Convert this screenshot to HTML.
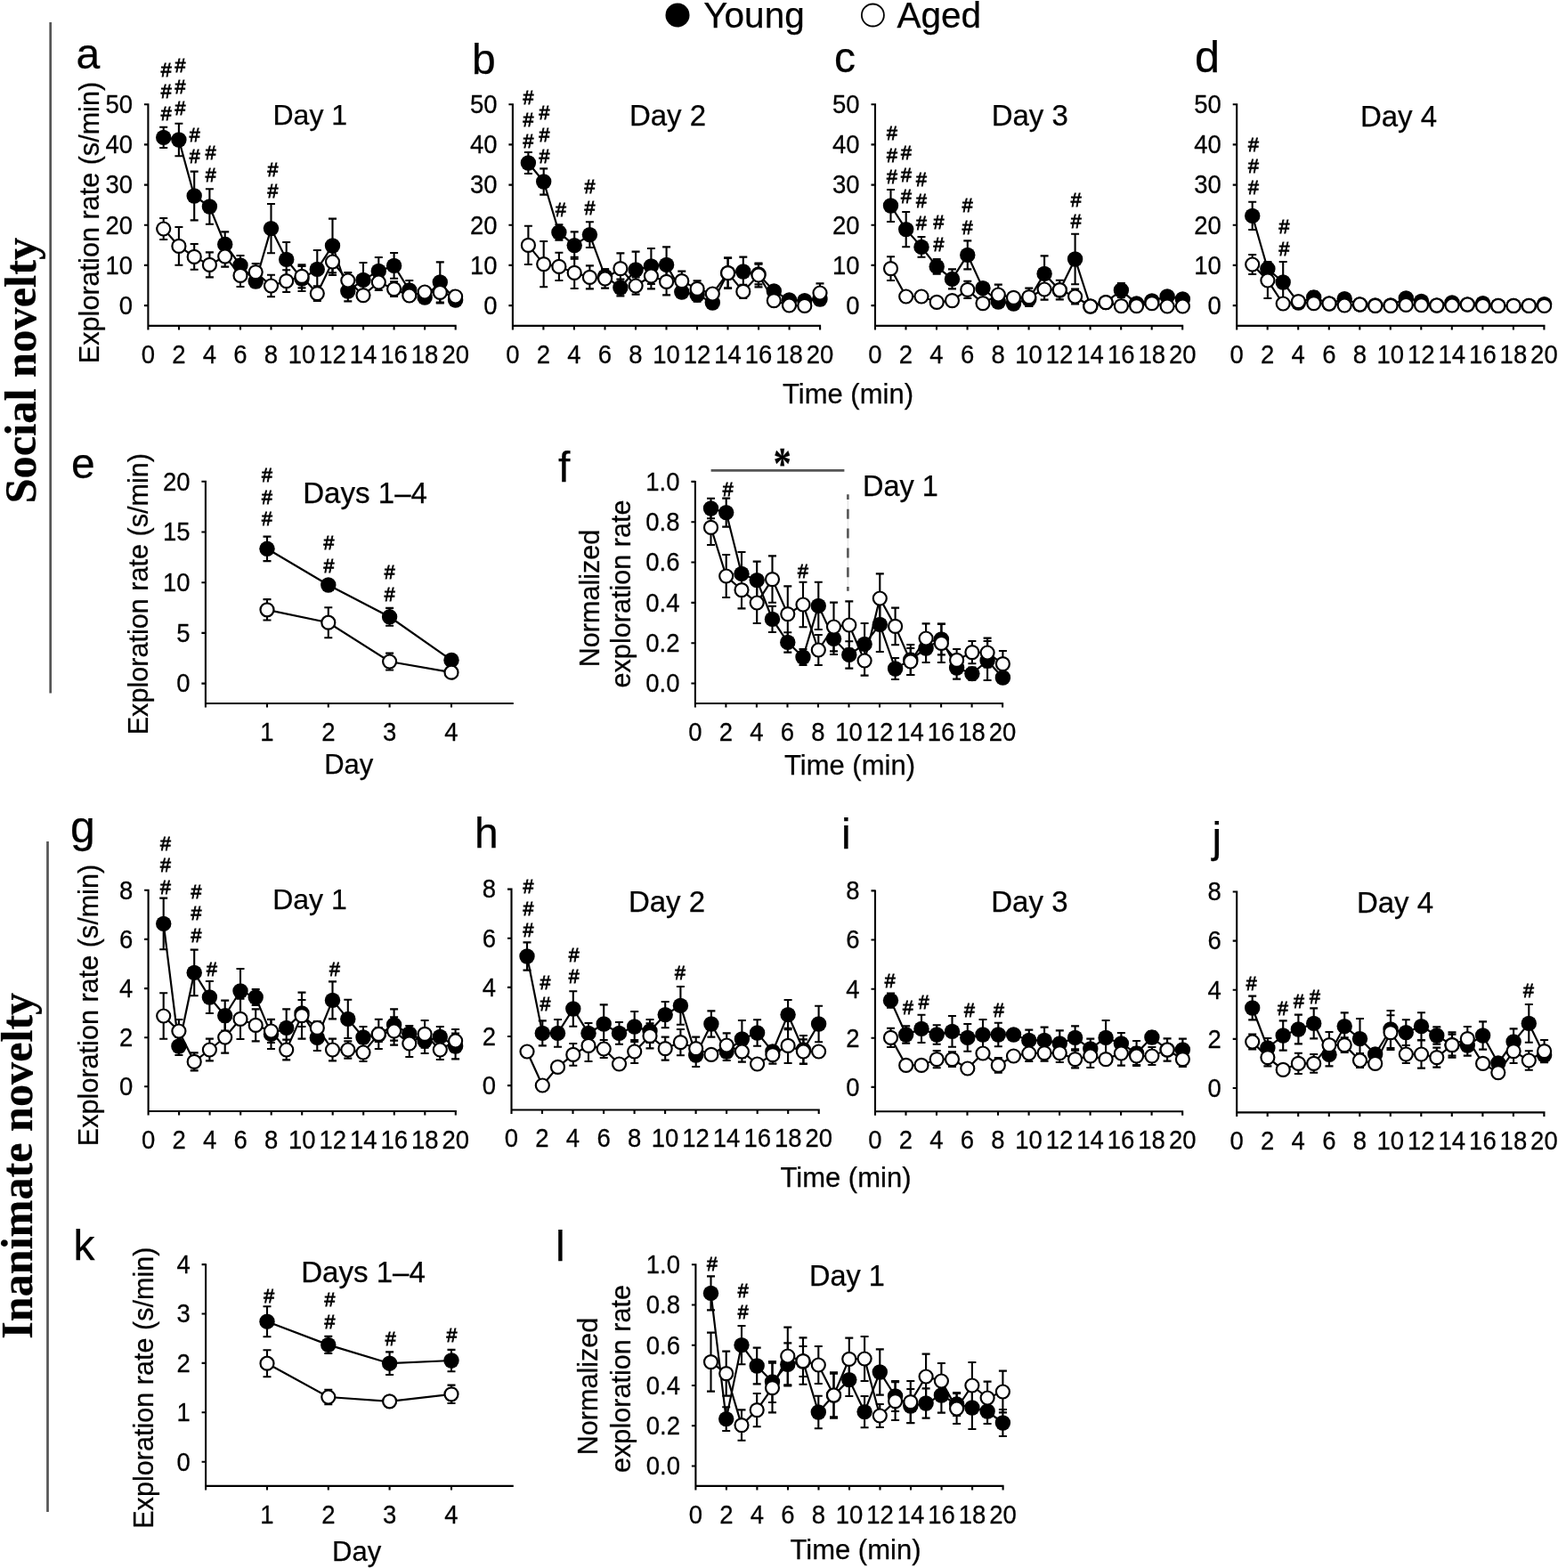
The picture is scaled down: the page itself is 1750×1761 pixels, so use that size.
<!DOCTYPE html>
<html lang="en"><head><meta charset="utf-8"><title>Exploration of social and inanimate novelty in young and aged animals</title>
<style>html,body{margin:0;padding:0;background:#fff}body{width:1750px;height:1761px;overflow:hidden}svg{display:block}text{font-family:'Liberation Sans', sans-serif;fill:#000;stroke:#000;stroke-width:0.25px}.h text{stroke-width:0.9px}.s{font-family:'Liberation Serif', serif;font-weight:bold}</style>
</head><body>
<svg width="1750" height="1761" viewBox="0 0 1750 1761">
<rect width="1750" height="1761" fill="#fff"/>
<path d="M56.7 25V778.5M53.5 945V1698" stroke="#555" stroke-width="2.7" fill="none"/>
<g class="s" text-anchor="middle">
<text class="s" font-size="50.5" transform="translate(39.8 416.2) rotate(-90)">Social novelty</text>
<text class="s" font-size="50.2" transform="translate(35.9 1309.3) rotate(-90)">Inanimate novelty</text>
</g>
<circle cx="761" cy="17" r="13.5" fill="#000"/>
<circle cx="980.4" cy="17" r="12.5" fill="#fff" stroke="#000" stroke-width="1.8"/>
<g font-size="40.5">
<text x="790.3" y="30.6">Young</text>
<text x="1007.5" y="30.6">Aged</text>
</g>
<g font-size="48">
<text x="85.5" y="77">a</text>
<text x="530" y="83">b</text>
<text x="937" y="81">c</text>
<text x="1342" y="81.3" font-size="50.5">d</text>
<text x="80" y="537">e</text>
<text x="627" y="541">f</text>
<text x="79" y="946.2" font-size="50">g</text>
<text x="533" y="952">h</text>
<text x="945" y="953">i</text>
<text x="1361.5" y="957">j</text>
<text x="82.5" y="1415.2">k</text>
<text x="624" y="1415.7">l</text>
</g>
<g text-anchor="middle">
<text x="348.3" y="140" font-size="32">Day 1</text>
<text x="750" y="141" font-size="33">Day 2</text>
<text x="1156.8" y="141" font-size="33">Day 3</text>
<text x="1571" y="142" font-size="33">Day 4</text>
<text x="410.1" y="564.8" font-size="33.1">Days 1–4</text>
<text x="1011.5" y="556.8" font-size="32.5">Day 1</text>
<text x="348" y="1021" font-size="32">Day 1</text>
<text x="749" y="1023.6" font-size="33">Day 2</text>
<text x="1156.4" y="1024" font-size="33">Day 3</text>
<text x="1567" y="1025" font-size="33">Day 4</text>
<text x="408" y="1440" font-size="33.1">Days 1–4</text>
<text x="951.4" y="1444" font-size="32.5">Day 1</text>
<text x="952.5" y="452.7" font-size="31">Time (min)</text>
<text x="391.7" y="869" font-size="31">Day</text>
<text x="954.5" y="869.5" font-size="31">Time (min)</text>
<text x="950" y="1333" font-size="31">Time (min)</text>
<text x="400.6" y="1753" font-size="31">Day</text>
<text x="961" y="1750.8" font-size="31">Time (min)</text>
<text font-size="30.6" transform="translate(111 250) rotate(-90)">Exploration rate (s/min)</text>
<text font-size="30.6" transform="translate(166 667.2) rotate(-90)">Exploration rate (s/min)</text>
<text font-size="30.6" transform="translate(672.5 672) rotate(-90)">Normalized</text>
<text font-size="30.6" transform="translate(708 667) rotate(-90)">exploration rate</text>
<text font-size="30.6" transform="translate(110 1129) rotate(-90)">Exploration rate (s/min)</text>
<text font-size="30.6" transform="translate(172.2 1558.7) rotate(-90)">Exploration rate (s/min)</text>
<text font-size="30.6" transform="translate(671 1557) rotate(-90)">Normalized</text>
<text font-size="30.6" transform="translate(708.3 1548.5) rotate(-90)">exploration rate</text>
</g>
<path d="M798.6 528.4H948.4" stroke="#555" stroke-width="2.7" fill="none"/>
<text transform="translate(878.7 536.6) scale(1 1.28)" font-size="40" font-weight="bold" text-anchor="middle" style="font-family:'Liberation Serif',serif">*</text>
<path d="M952.4 555.3V663.7" stroke="#c8c8c8" stroke-width="0.6" fill="none"/>
<path d="M952.4 555.3V663.7" stroke="#555" stroke-width="2.6" stroke-dasharray="11 10.8" stroke-dashoffset="5.3" fill="none"/>
<g id="panel-a">
<path d="M166.4 116.2V365.9H512.7M161.9 343.1H166.4M161.9 297.9H166.4M161.9 252.7H166.4M161.9 207.6H166.4M161.9 162.4H166.4M161.9 117.2H166.4M166.4 365.9V370.4M201 365.9V370.4M235.5 365.9V370.4M270 365.9V370.4M304.5 365.9V370.4M339.1 365.9V370.4M373.6 365.9V370.4M408.1 365.9V370.4M442.6 365.9V370.4M477.1 365.9V370.4M511.7 365.9V370.4" fill="none" stroke="#000" stroke-width="2.1"/>
<g font-size="27.5" text-anchor="end">
<text transform="translate(149 352.9) scale(1 1.04)">0</text>
<text transform="translate(149 307.7) scale(1 1.04)">10</text>
<text transform="translate(149 262.5) scale(1 1.04)">20</text>
<text transform="translate(149 217.4) scale(1 1.04)">30</text>
<text transform="translate(149 172.2) scale(1 1.04)">40</text>
<text transform="translate(149 127) scale(1 1.04)">50</text>
</g>
<g font-size="27.5" text-anchor="middle">
<text transform="translate(166.4 407.6) scale(1 1.04)">0</text>
<text transform="translate(201 407.6) scale(1 1.04)">2</text>
<text transform="translate(235.5 407.6) scale(1 1.04)">4</text>
<text transform="translate(270 407.6) scale(1 1.04)">6</text>
<text transform="translate(304.5 407.6) scale(1 1.04)">8</text>
<text transform="translate(339.1 407.6) scale(1 1.04)">10</text>
<text transform="translate(373.6 407.6) scale(1 1.04)">12</text>
<text transform="translate(408.1 407.6) scale(1 1.04)">14</text>
<text transform="translate(442.6 407.6) scale(1 1.04)">16</text>
<text transform="translate(477.1 407.6) scale(1 1.04)">18</text>
<text transform="translate(511.7 407.6) scale(1 1.04)">20</text>
</g>
<path d="M183.7 154.4L200.9 157L218.2 220L235.4 232L252.7 274.4L270 298L287.2 316L304.5 256.6L321.7 291.4L339 313L356.3 302.4L373.5 276L390.8 327L408 314.4L425.3 304.4L442.6 298.4L459.8 326L477.1 334L494.3 317L511.6 337" fill="none" stroke="#000" stroke-width="2.2"/>
<path d="M183.7 142.8V166M179.2 142.8H188.2M179.2 166H188.2M200.9 138.8V175.2M196.4 138.8H205.4M196.4 175.2H205.4M218.2 192.6V247.4M213.7 192.6H222.7M213.7 247.4H222.7M235.4 212.2V251.8M230.9 212.2H239.9M230.9 251.8H239.9M252.7 260.4V288.4M248.2 260.4H257.2M248.2 288.4H257.2M270 287V309M265.5 287H274.5M265.5 309H274.5M287.2 309V323M282.7 309H291.7M282.7 323H291.7M304.5 229V284.2M300 229H309M300 284.2H309M321.7 272V310.8M317.2 272H326.2M317.2 310.8H326.2M339 299V327M334.5 299H343.5M334.5 327H343.5M356.3 281V323.8M351.8 281H360.8M351.8 323.8H360.8M373.5 245.6V306.4M369 245.6H378M369 306.4H378M390.8 315.6V338.4M386.3 315.6H395.3M386.3 338.4H395.3M408 295V333.8M403.5 295H412.5M403.5 333.8H412.5M425.3 289V319.8M420.8 289H429.8M420.8 319.8H429.8M442.6 284V312.8M438.1 284H447.1M438.1 312.8H447.1M459.8 315V337M455.3 315H464.3M455.3 337H464.3M477.1 330V338M472.6 330H481.6M472.6 338H481.6M494.3 294.4V339.6M489.8 294.4H498.8M489.8 339.6H498.8M511.6 334V340M507.1 334H516.1M507.1 340H516.1" fill="none" stroke="#000" stroke-width="2.1"/>
<g fill="#000">
<circle cx="183.7" cy="154.4" r="8.7"/>
<circle cx="200.9" cy="157" r="8.7"/>
<circle cx="218.2" cy="220" r="8.7"/>
<circle cx="235.4" cy="232" r="8.7"/>
<circle cx="252.7" cy="274.4" r="8.7"/>
<circle cx="270" cy="298" r="8.7"/>
<circle cx="287.2" cy="316" r="8.7"/>
<circle cx="304.5" cy="256.6" r="8.7"/>
<circle cx="321.7" cy="291.4" r="8.7"/>
<circle cx="339" cy="313" r="8.7"/>
<circle cx="356.3" cy="302.4" r="8.7"/>
<circle cx="373.5" cy="276" r="8.7"/>
<circle cx="390.8" cy="327" r="8.7"/>
<circle cx="408" cy="314.4" r="8.7"/>
<circle cx="425.3" cy="304.4" r="8.7"/>
<circle cx="442.6" cy="298.4" r="8.7"/>
<circle cx="459.8" cy="326" r="8.7"/>
<circle cx="477.1" cy="334" r="8.7"/>
<circle cx="494.3" cy="317" r="8.7"/>
<circle cx="511.6" cy="337" r="8.7"/>
</g>
<path d="M183.7 257L200.9 276.4L218.2 288.4L235.4 297.4L252.7 288L270 309.4L287.2 305.6L304.5 321L321.7 315.6L339 310.4L356.3 329.6L373.5 294L390.8 315L408 331.6L425.3 317L442.6 324.6L459.8 332L477.1 328L494.3 328.4L511.6 333" fill="none" stroke="#000" stroke-width="2.2"/>
<path d="M183.7 245V269M179.2 245H188.2M179.2 269H188.2M200.9 255V297.8M196.4 255H205.4M196.4 297.8H205.4M218.2 274V302.8M213.7 274H222.7M213.7 302.8H222.7M235.4 283.4V311.4M230.9 283.4H239.9M230.9 311.4H239.9M252.7 276.4V299.6M248.2 276.4H257.2M248.2 299.6H257.2M270 296.8V322M265.5 296.8H274.5M265.5 322H274.5M287.2 296V315.2M282.7 296H291.7M282.7 315.2H291.7M304.5 308.8V333.2M300 308.8H309M300 333.2H309M321.7 303.2V328M317.2 303.2H326.2M317.2 328H326.2M339 297.4V323.4M334.5 297.4H343.5M334.5 323.4H343.5M356.3 321.2V338M351.8 321.2H360.8M351.8 338H360.8M373.5 279V309M369 279H378M369 309H378M390.8 306V324M386.3 306H395.3M386.3 324H395.3M408 326.6V336.6M403.5 326.6H412.5M403.5 336.6H412.5M425.3 308V326M420.8 308H429.8M420.8 326H429.8M442.6 316.2V333M438.1 316.2H447.1M438.1 333H447.1M459.8 327V337M455.3 327H464.3M455.3 337H464.3M477.1 323V333M472.6 323H481.6M472.6 333H481.6M494.3 316.4V340.4M489.8 316.4H498.8M489.8 340.4H498.8M511.6 328V338M507.1 328H516.1M507.1 338H516.1" fill="none" stroke="#000" stroke-width="2.1"/>
<g fill="#fff" stroke="#000" stroke-width="2.2">
<circle cx="183.7" cy="257" r="7.5"/>
<circle cx="200.9" cy="276.4" r="7.5"/>
<circle cx="218.2" cy="288.4" r="7.5"/>
<circle cx="235.4" cy="297.4" r="7.5"/>
<circle cx="252.7" cy="288" r="7.5"/>
<circle cx="270" cy="309.4" r="7.5"/>
<circle cx="287.2" cy="305.6" r="7.5"/>
<circle cx="304.5" cy="321" r="7.5"/>
<circle cx="321.7" cy="315.6" r="7.5"/>
<circle cx="339" cy="310.4" r="7.5"/>
<circle cx="356.3" cy="329.6" r="7.5"/>
<circle cx="373.5" cy="294" r="7.5"/>
<circle cx="390.8" cy="315" r="7.5"/>
<circle cx="408" cy="331.6" r="7.5"/>
<circle cx="425.3" cy="317" r="7.5"/>
<circle cx="442.6" cy="324.6" r="7.5"/>
<circle cx="459.8" cy="332" r="7.5"/>
<circle cx="477.1" cy="328" r="7.5"/>
<circle cx="494.3" cy="328.4" r="7.5"/>
<circle cx="511.6" cy="333" r="7.5"/>
</g>
</g>
<g id="panel-b">
<path d="M575.9 116.2V365.9H922.1M571.4 343.1H575.9M571.4 297.9H575.9M571.4 252.7H575.9M571.4 207.6H575.9M571.4 162.4H575.9M571.4 117.2H575.9M575.9 365.9V370.4M610.4 365.9V370.4M644.9 365.9V370.4M679.5 365.9V370.4M714 365.9V370.4M748.5 365.9V370.4M783 365.9V370.4M817.5 365.9V370.4M852.1 365.9V370.4M886.6 365.9V370.4M921.1 365.9V370.4" fill="none" stroke="#000" stroke-width="2.1"/>
<g font-size="27.5" text-anchor="end">
<text transform="translate(558.5 352.9) scale(1 1.04)">0</text>
<text transform="translate(558.5 307.7) scale(1 1.04)">10</text>
<text transform="translate(558.5 262.5) scale(1 1.04)">20</text>
<text transform="translate(558.5 217.4) scale(1 1.04)">30</text>
<text transform="translate(558.5 172.2) scale(1 1.04)">40</text>
<text transform="translate(558.5 127) scale(1 1.04)">50</text>
</g>
<g font-size="27.5" text-anchor="middle">
<text transform="translate(575.9 407.6) scale(1 1.04)">0</text>
<text transform="translate(610.4 407.6) scale(1 1.04)">2</text>
<text transform="translate(644.9 407.6) scale(1 1.04)">4</text>
<text transform="translate(679.5 407.6) scale(1 1.04)">6</text>
<text transform="translate(714 407.6) scale(1 1.04)">8</text>
<text transform="translate(748.5 407.6) scale(1 1.04)">10</text>
<text transform="translate(783 407.6) scale(1 1.04)">12</text>
<text transform="translate(817.5 407.6) scale(1 1.04)">14</text>
<text transform="translate(852.1 407.6) scale(1 1.04)">16</text>
<text transform="translate(886.6 407.6) scale(1 1.04)">18</text>
<text transform="translate(921.1 407.6) scale(1 1.04)">20</text>
</g>
<path d="M593.4 183L610.7 204L627.9 261L645.2 275.6L662.4 263.6L679.6 310.4L696.9 323L714.1 303L731.4 299L748.6 297.4L765.8 328L783.1 331L800.3 340L817.6 306.6L834.8 305L852 308L869.3 327L886.5 337L903.8 337.6L921 336" fill="none" stroke="#000" stroke-width="2.2"/>
<path d="M593.4 171V195M588.9 171H597.9M588.9 195H597.9M610.7 189.4V218.6M606.2 189.4H615.2M606.2 218.6H615.2M627.9 252.2V269.8M623.4 252.2H632.4M623.4 269.8H632.4M645.2 260.4V290.8M640.7 260.4H649.7M640.7 290.8H649.7M662.4 249.2V278M657.9 249.2H666.9M657.9 278H666.9M679.6 302.4V318.4M675.1 302.4H684.1M675.1 318.4H684.1M696.9 313.6V332.4M692.4 313.6H701.4M692.4 332.4H701.4M714.1 282.6V323.4M709.6 282.6H718.6M709.6 323.4H718.6M731.4 279V319M726.9 279H735.9M726.9 319H735.9M748.6 277.4V317.4M744.1 277.4H753.1M744.1 317.4H753.1M765.8 322V334M761.3 322H770.3M761.3 334H770.3M783.1 323.4V338.6M778.6 323.4H787.6M778.6 338.6H787.6M800.3 337V343M795.8 337H804.8M795.8 343H804.8M817.6 289.6V323.6M813.1 289.6H822.1M813.1 323.6H822.1M834.8 288.6V321.4M830.3 288.6H839.3M830.3 321.4H839.3M852 296.6V319.4M847.5 296.6H856.5M847.5 319.4H856.5M869.3 323V331M864.8 323H873.8M864.8 331H873.8M886.5 334V340M882 334H891M882 340H891M903.8 334.6V340.6M899.3 334.6H908.3M899.3 340.6H908.3M921 329.4V342.6M916.5 329.4H925.5M916.5 342.6H925.5" fill="none" stroke="#000" stroke-width="2.1"/>
<g fill="#000">
<circle cx="593.4" cy="183" r="8.7"/>
<circle cx="610.7" cy="204" r="8.7"/>
<circle cx="627.9" cy="261" r="8.7"/>
<circle cx="645.2" cy="275.6" r="8.7"/>
<circle cx="662.4" cy="263.6" r="8.7"/>
<circle cx="679.6" cy="310.4" r="8.7"/>
<circle cx="696.9" cy="323" r="8.7"/>
<circle cx="714.1" cy="303" r="8.7"/>
<circle cx="731.4" cy="299" r="8.7"/>
<circle cx="748.6" cy="297.4" r="8.7"/>
<circle cx="765.8" cy="328" r="8.7"/>
<circle cx="783.1" cy="331" r="8.7"/>
<circle cx="800.3" cy="340" r="8.7"/>
<circle cx="817.6" cy="306.6" r="8.7"/>
<circle cx="834.8" cy="305" r="8.7"/>
<circle cx="852" cy="308" r="8.7"/>
<circle cx="869.3" cy="327" r="8.7"/>
<circle cx="886.5" cy="337" r="8.7"/>
<circle cx="903.8" cy="337.6" r="8.7"/>
<circle cx="921" cy="336" r="8.7"/>
</g>
<path d="M593.4 275.4L610.7 296.6L627.9 299.4L645.2 306.4L662.4 311.4L679.6 313L696.9 301.6L714.1 321L731.4 310L748.6 316.4L765.8 315.6L783.1 324.4L800.3 330L817.6 306.6L834.8 327.4L852 309L869.3 337.6L886.5 343L903.8 343.4L921 329" fill="none" stroke="#000" stroke-width="2.2"/>
<path d="M593.4 253.8V297M588.9 253.8H597.9M588.9 297H597.9M610.7 271V322.2M606.2 271H615.2M606.2 322.2H615.2M627.9 283.8V315M623.4 283.8H632.4M623.4 315H632.4M645.2 288.8V324M640.7 288.8H649.7M640.7 324H649.7M662.4 298.4V324.4M657.9 298.4H666.9M657.9 324.4H666.9M679.6 302.4V323.6M675.1 302.4H684.1M675.1 323.6H684.1M696.9 284.4V318.8M692.4 284.4H701.4M692.4 318.8H701.4M714.1 311.4V330.6M709.6 311.4H718.6M709.6 330.6H718.6M731.4 295.6V324.4M726.9 295.6H735.9M726.9 324.4H735.9M748.6 301.4V331.4M744.1 301.4H753.1M744.1 331.4H753.1M765.8 304.6V326.6M761.3 304.6H770.3M761.3 326.6H770.3M783.1 315.4V333.4M778.6 315.4H787.6M778.6 333.4H787.6M800.3 326V334M795.8 326H804.8M795.8 334H804.8M817.6 289.6V323.6M813.1 289.6H822.1M813.1 323.6H822.1M834.8 319.8V335M830.3 319.8H839.3M830.3 335H839.3M852 295.6V322.4M847.5 295.6H856.5M847.5 322.4H856.5M869.3 334.6V340.6M864.8 334.6H873.8M864.8 340.6H873.8M886.5 341V345M882 341H891M882 345H891M903.8 341.4V345.4M899.3 341.4H908.3M899.3 345.4H908.3M921 318.4V339.6M916.5 318.4H925.5M916.5 339.6H925.5" fill="none" stroke="#000" stroke-width="2.1"/>
<g fill="#fff" stroke="#000" stroke-width="2.2">
<circle cx="593.4" cy="275.4" r="7.5"/>
<circle cx="610.7" cy="296.6" r="7.5"/>
<circle cx="627.9" cy="299.4" r="7.5"/>
<circle cx="645.2" cy="306.4" r="7.5"/>
<circle cx="662.4" cy="311.4" r="7.5"/>
<circle cx="679.6" cy="313" r="7.5"/>
<circle cx="696.9" cy="301.6" r="7.5"/>
<circle cx="714.1" cy="321" r="7.5"/>
<circle cx="731.4" cy="310" r="7.5"/>
<circle cx="748.6" cy="316.4" r="7.5"/>
<circle cx="765.8" cy="315.6" r="7.5"/>
<circle cx="783.1" cy="324.4" r="7.5"/>
<circle cx="800.3" cy="330" r="7.5"/>
<circle cx="817.6" cy="306.6" r="7.5"/>
<circle cx="834.8" cy="327.4" r="7.5"/>
<circle cx="852" cy="309" r="7.5"/>
<circle cx="869.3" cy="337.6" r="7.5"/>
<circle cx="886.5" cy="343" r="7.5"/>
<circle cx="903.8" cy="343.4" r="7.5"/>
<circle cx="921" cy="329" r="7.5"/>
</g>
</g>
<g id="panel-c">
<path d="M983 116.2V365.9H1329.2M978.5 343.1H983M978.5 297.9H983M978.5 252.7H983M978.5 207.6H983M978.5 162.4H983M978.5 117.2H983M983 365.9V370.4M1017.5 365.9V370.4M1052 365.9V370.4M1086.6 365.9V370.4M1121.1 365.9V370.4M1155.6 365.9V370.4M1190.1 365.9V370.4M1224.6 365.9V370.4M1259.2 365.9V370.4M1293.7 365.9V370.4M1328.2 365.9V370.4" fill="none" stroke="#000" stroke-width="2.1"/>
<g font-size="27.5" text-anchor="end">
<text transform="translate(965.6 352.9) scale(1 1.04)">0</text>
<text transform="translate(965.6 307.7) scale(1 1.04)">10</text>
<text transform="translate(965.6 262.5) scale(1 1.04)">20</text>
<text transform="translate(965.6 217.4) scale(1 1.04)">30</text>
<text transform="translate(965.6 172.2) scale(1 1.04)">40</text>
<text transform="translate(965.6 127) scale(1 1.04)">50</text>
</g>
<g font-size="27.5" text-anchor="middle">
<text transform="translate(983 407.6) scale(1 1.04)">0</text>
<text transform="translate(1017.5 407.6) scale(1 1.04)">2</text>
<text transform="translate(1052 407.6) scale(1 1.04)">4</text>
<text transform="translate(1086.6 407.6) scale(1 1.04)">6</text>
<text transform="translate(1121.1 407.6) scale(1 1.04)">8</text>
<text transform="translate(1155.6 407.6) scale(1 1.04)">10</text>
<text transform="translate(1190.1 407.6) scale(1 1.04)">12</text>
<text transform="translate(1224.6 407.6) scale(1 1.04)">14</text>
<text transform="translate(1259.2 407.6) scale(1 1.04)">16</text>
<text transform="translate(1293.7 407.6) scale(1 1.04)">18</text>
<text transform="translate(1328.2 407.6) scale(1 1.04)">20</text>
</g>
<path d="M1000.5 231L1017.7 257.6L1035 277.4L1052.2 299.4L1069.5 313.4L1086.8 286.4L1104 323.6L1121.3 339L1138.5 341L1155.8 336L1173.1 307.4L1190.3 326L1207.6 291L1224.8 344L1242.1 339.6L1259.4 326L1276.6 341L1293.9 338L1311.1 333L1328.4 336" fill="none" stroke="#000" stroke-width="2.2"/>
<path d="M1000.5 213V249M996 213H1005M996 249H1005M1017.7 238V277.2M1013.2 238H1022.2M1013.2 277.2H1022.2M1035 266V288.8M1030.5 266H1039.5M1030.5 288.8H1039.5M1052.2 291V307.8M1047.7 291H1056.7M1047.7 307.8H1056.7M1069.5 302.4V324.4M1065 302.4H1074M1065 324.4H1074M1086.8 270.4V302.4M1082.3 270.4H1091.3M1082.3 302.4H1091.3M1104 319.6V327.6M1099.5 319.6H1108.5M1099.5 327.6H1108.5M1121.3 334V344M1116.8 334H1125.8M1116.8 344H1125.8M1138.5 337V345M1134 337H1143M1134 345H1143M1155.8 328V344M1151.3 328H1160.3M1151.3 344H1160.3M1173.1 287.4V327.4M1168.6 287.4H1177.6M1168.6 327.4H1177.6M1190.3 320V332M1185.8 320H1194.8M1185.8 332H1194.8M1207.6 262.8V319.2M1203.1 262.8H1212.1M1203.1 319.2H1212.1M1224.8 342V346M1220.3 342H1229.3M1220.3 346H1229.3M1242.1 337.6V341.6M1237.6 337.6H1246.6M1237.6 341.6H1246.6M1259.4 318V334M1254.9 318H1263.9M1254.9 334H1263.9M1276.6 339V343M1272.1 339H1281.1M1272.1 343H1281.1M1293.9 335V341M1289.4 335H1298.4M1289.4 341H1298.4M1311.1 330V336M1306.6 330H1315.6M1306.6 336H1315.6M1328.4 333V339M1323.9 333H1332.9M1323.9 339H1332.9" fill="none" stroke="#000" stroke-width="2.1"/>
<g fill="#000">
<circle cx="1000.5" cy="231" r="8.7"/>
<circle cx="1017.7" cy="257.6" r="8.7"/>
<circle cx="1035" cy="277.4" r="8.7"/>
<circle cx="1052.2" cy="299.4" r="8.7"/>
<circle cx="1069.5" cy="313.4" r="8.7"/>
<circle cx="1086.8" cy="286.4" r="8.7"/>
<circle cx="1104" cy="323.6" r="8.7"/>
<circle cx="1121.3" cy="339" r="8.7"/>
<circle cx="1138.5" cy="341" r="8.7"/>
<circle cx="1155.8" cy="336" r="8.7"/>
<circle cx="1173.1" cy="307.4" r="8.7"/>
<circle cx="1190.3" cy="326" r="8.7"/>
<circle cx="1207.6" cy="291" r="8.7"/>
<circle cx="1224.8" cy="344" r="8.7"/>
<circle cx="1242.1" cy="339.6" r="8.7"/>
<circle cx="1259.4" cy="326" r="8.7"/>
<circle cx="1276.6" cy="341" r="8.7"/>
<circle cx="1293.9" cy="338" r="8.7"/>
<circle cx="1311.1" cy="333" r="8.7"/>
<circle cx="1328.4" cy="336" r="8.7"/>
</g>
<path d="M1000.5 301.6L1017.7 333L1035 333L1052.2 339.4L1069.5 337.6L1086.8 325.4L1104 340.6L1121.3 331L1138.5 334.4L1155.8 333.6L1173.1 325L1190.3 325.6L1207.6 333L1224.8 344L1242.1 339.6L1259.4 343.6L1276.6 343.6L1293.9 340.6L1311.1 344L1328.4 344" fill="none" stroke="#000" stroke-width="2.2"/>
<path d="M1000.5 288.2V315M996 288.2H1005M996 315H1005M1017.7 330V336M1013.2 330H1022.2M1013.2 336H1022.2M1035 330V336M1030.5 330H1039.5M1030.5 336H1039.5M1052.2 337.4V341.4M1047.7 337.4H1056.7M1047.7 341.4H1056.7M1069.5 334.6V340.6M1065 334.6H1074M1065 340.6H1074M1086.8 315.8V335M1082.3 315.8H1091.3M1082.3 335H1091.3M1104 337.6V343.6M1099.5 337.6H1108.5M1099.5 343.6H1108.5M1121.3 319.6V342.4M1116.8 319.6H1125.8M1116.8 342.4H1125.8M1138.5 330.4V338.4M1134 330.4H1143M1134 338.4H1143M1155.8 323.6V343.6M1151.3 323.6H1160.3M1151.3 343.6H1160.3M1173.1 313.4V336.6M1168.6 313.4H1177.6M1168.6 336.6H1177.6M1190.3 314.8V336.4M1185.8 314.8H1194.8M1185.8 336.4H1194.8M1207.6 324.6V341.4M1203.1 324.6H1212.1M1203.1 341.4H1212.1M1224.8 342.4V345.6M1220.3 342.4H1229.3M1220.3 345.6H1229.3M1242.1 336.6V342.6M1237.6 336.6H1246.6M1237.6 342.6H1246.6M1259.4 342V345.2M1254.9 342H1263.9M1254.9 345.2H1263.9M1276.6 342V345.2M1272.1 342H1281.1M1272.1 345.2H1281.1M1293.9 337.6V343.6M1289.4 337.6H1298.4M1289.4 343.6H1298.4M1311.1 342.4V345.6M1306.6 342.4H1315.6M1306.6 345.6H1315.6M1328.4 342.4V345.6M1323.9 342.4H1332.9M1323.9 345.6H1332.9" fill="none" stroke="#000" stroke-width="2.1"/>
<g fill="#fff" stroke="#000" stroke-width="2.2">
<circle cx="1000.5" cy="301.6" r="7.5"/>
<circle cx="1017.7" cy="333" r="7.5"/>
<circle cx="1035" cy="333" r="7.5"/>
<circle cx="1052.2" cy="339.4" r="7.5"/>
<circle cx="1069.5" cy="337.6" r="7.5"/>
<circle cx="1086.8" cy="325.4" r="7.5"/>
<circle cx="1104" cy="340.6" r="7.5"/>
<circle cx="1121.3" cy="331" r="7.5"/>
<circle cx="1138.5" cy="334.4" r="7.5"/>
<circle cx="1155.8" cy="333.6" r="7.5"/>
<circle cx="1173.1" cy="325" r="7.5"/>
<circle cx="1190.3" cy="325.6" r="7.5"/>
<circle cx="1207.6" cy="333" r="7.5"/>
<circle cx="1224.8" cy="344" r="7.5"/>
<circle cx="1242.1" cy="339.6" r="7.5"/>
<circle cx="1259.4" cy="343.6" r="7.5"/>
<circle cx="1276.6" cy="343.6" r="7.5"/>
<circle cx="1293.9" cy="340.6" r="7.5"/>
<circle cx="1311.1" cy="344" r="7.5"/>
<circle cx="1328.4" cy="344" r="7.5"/>
</g>
</g>
<g id="panel-d">
<path d="M1389.2 116.2V365.9H1735.5M1384.7 343.1H1389.2M1384.7 297.9H1389.2M1384.7 252.7H1389.2M1384.7 207.6H1389.2M1384.7 162.4H1389.2M1384.7 117.2H1389.2M1389.2 365.9V370.4M1423.7 365.9V370.4M1458.2 365.9V370.4M1492.8 365.9V370.4M1527.3 365.9V370.4M1561.8 365.9V370.4M1596.3 365.9V370.4M1630.8 365.9V370.4M1665.4 365.9V370.4M1699.9 365.9V370.4M1734.4 365.9V370.4" fill="none" stroke="#000" stroke-width="2.1"/>
<g font-size="27.5" text-anchor="end">
<text transform="translate(1371.8 352.9) scale(1 1.04)">0</text>
<text transform="translate(1371.8 307.7) scale(1 1.04)">10</text>
<text transform="translate(1371.8 262.5) scale(1 1.04)">20</text>
<text transform="translate(1371.8 217.4) scale(1 1.04)">30</text>
<text transform="translate(1371.8 172.2) scale(1 1.04)">40</text>
<text transform="translate(1371.8 127) scale(1 1.04)">50</text>
</g>
<g font-size="27.5" text-anchor="middle">
<text transform="translate(1389.2 407.6) scale(1 1.04)">0</text>
<text transform="translate(1423.7 407.6) scale(1 1.04)">2</text>
<text transform="translate(1458.2 407.6) scale(1 1.04)">4</text>
<text transform="translate(1492.8 407.6) scale(1 1.04)">6</text>
<text transform="translate(1527.3 407.6) scale(1 1.04)">8</text>
<text transform="translate(1561.8 407.6) scale(1 1.04)">10</text>
<text transform="translate(1596.3 407.6) scale(1 1.04)">12</text>
<text transform="translate(1630.8 407.6) scale(1 1.04)">14</text>
<text transform="translate(1665.4 407.6) scale(1 1.04)">16</text>
<text transform="translate(1699.9 407.6) scale(1 1.04)">18</text>
<text transform="translate(1734.4 407.6) scale(1 1.04)">20</text>
</g>
<path d="M1406.7 242.4L1423.9 302L1441.2 317L1458.4 340L1475.7 334L1493 341L1510.2 335.6L1527.5 342L1544.7 343L1562 343L1579.3 335L1596.5 338.4L1613.8 343L1631 340L1648.3 342L1665.6 340.6L1682.8 343.4L1700.1 343.4L1717.3 343.4L1734.6 341.6" fill="none" stroke="#000" stroke-width="2.2"/>
<path d="M1406.7 226.8V258M1402.2 226.8H1411.2M1402.2 258H1411.2M1423.9 294V310M1419.4 294H1428.4M1419.4 310H1428.4M1441.2 294V340M1436.7 294H1445.7M1436.7 340H1445.7M1458.4 338V342M1453.9 338H1462.9M1453.9 342H1462.9M1475.7 327V341M1471.2 327H1480.2M1471.2 341H1480.2M1493 339.4V342.6M1488.5 339.4H1497.5M1488.5 342.6H1497.5M1510.2 331.6V339.6M1505.7 331.6H1514.7M1505.7 339.6H1514.7M1527.5 340.4V343.6M1523 340.4H1532M1523 343.6H1532M1544.7 342V344M1540.2 342H1549.2M1540.2 344H1549.2M1562 342V344M1557.5 342H1566.5M1557.5 344H1566.5M1579.3 331V339M1574.8 331H1583.8M1574.8 339H1583.8M1596.5 336V340.8M1592 336H1601M1592 340.8H1601M1613.8 342V344M1609.3 342H1618.3M1609.3 344H1618.3M1631 338V342M1626.5 338H1635.5M1626.5 342H1635.5M1648.3 341V343M1643.8 341H1652.8M1643.8 343H1652.8M1665.6 338.2V343M1661.1 338.2H1670.1M1661.1 343H1670.1M1734.6 340V343.2M1730.1 340H1739.1M1730.1 343.2H1739.1" fill="none" stroke="#000" stroke-width="2.1"/>
<g fill="#000">
<circle cx="1406.7" cy="242.4" r="8.7"/>
<circle cx="1423.9" cy="302" r="8.7"/>
<circle cx="1441.2" cy="317" r="8.7"/>
<circle cx="1458.4" cy="340" r="8.7"/>
<circle cx="1475.7" cy="334" r="8.7"/>
<circle cx="1493" cy="341" r="8.7"/>
<circle cx="1510.2" cy="335.6" r="8.7"/>
<circle cx="1527.5" cy="342" r="8.7"/>
<circle cx="1544.7" cy="343" r="8.7"/>
<circle cx="1562" cy="343" r="8.7"/>
<circle cx="1579.3" cy="335" r="8.7"/>
<circle cx="1596.5" cy="338.4" r="8.7"/>
<circle cx="1613.8" cy="343" r="8.7"/>
<circle cx="1631" cy="340" r="8.7"/>
<circle cx="1648.3" cy="342" r="8.7"/>
<circle cx="1665.6" cy="340.6" r="8.7"/>
<circle cx="1682.8" cy="343.4" r="8.7"/>
<circle cx="1700.1" cy="343.4" r="8.7"/>
<circle cx="1717.3" cy="343.4" r="8.7"/>
<circle cx="1734.6" cy="341.6" r="8.7"/>
</g>
<path d="M1406.7 297L1423.9 315L1441.2 341L1458.4 338.6L1475.7 340.6L1493 341L1510.2 343L1527.5 342L1544.7 343.4L1562 343.4L1579.3 342.4L1596.5 342.6L1613.8 343L1631 343L1648.3 342L1665.6 343.4L1682.8 343.4L1700.1 343.4L1717.3 343.4L1734.6 343.4" fill="none" stroke="#000" stroke-width="2.2"/>
<path d="M1406.7 286V308M1402.2 286H1411.2M1402.2 308H1411.2M1423.9 295V335M1419.4 295H1428.4M1419.4 335H1428.4M1441.2 338V344M1436.7 338H1445.7M1436.7 344H1445.7M1458.4 335.6V341.6M1453.9 335.6H1462.9M1453.9 341.6H1462.9M1475.7 338.6V342.6M1471.2 338.6H1480.2M1471.2 342.6H1480.2M1493 339.4V342.6M1488.5 339.4H1497.5M1488.5 342.6H1497.5M1527.5 340.4V343.6M1523 340.4H1532M1523 343.6H1532M1579.3 340.8V344M1574.8 340.8H1583.8M1574.8 344H1583.8M1596.5 341.6V343.6M1592 341.6H1601M1592 343.6H1601M1648.3 340.4V343.6M1643.8 340.4H1652.8M1643.8 343.6H1652.8" fill="none" stroke="#000" stroke-width="2.1"/>
<g fill="#fff" stroke="#000" stroke-width="2.2">
<circle cx="1406.7" cy="297" r="7.5"/>
<circle cx="1423.9" cy="315" r="7.5"/>
<circle cx="1441.2" cy="341" r="7.5"/>
<circle cx="1458.4" cy="338.6" r="7.5"/>
<circle cx="1475.7" cy="340.6" r="7.5"/>
<circle cx="1493" cy="341" r="7.5"/>
<circle cx="1510.2" cy="343" r="7.5"/>
<circle cx="1527.5" cy="342" r="7.5"/>
<circle cx="1544.7" cy="343.4" r="7.5"/>
<circle cx="1562" cy="343.4" r="7.5"/>
<circle cx="1579.3" cy="342.4" r="7.5"/>
<circle cx="1596.5" cy="342.6" r="7.5"/>
<circle cx="1613.8" cy="343" r="7.5"/>
<circle cx="1631" cy="343" r="7.5"/>
<circle cx="1648.3" cy="342" r="7.5"/>
<circle cx="1665.6" cy="343.4" r="7.5"/>
<circle cx="1682.8" cy="343.4" r="7.5"/>
<circle cx="1700.1" cy="343.4" r="7.5"/>
<circle cx="1717.3" cy="343.4" r="7.5"/>
<circle cx="1734.6" cy="343.4" r="7.5"/>
</g>
</g>
<g id="panel-e">
<path d="M230.9 539.8V790H576.8M226.4 767.6H230.9M226.4 710.9H230.9M226.4 654.2H230.9M226.4 597.5H230.9M226.4 540.8H230.9M230.9 790V794.5M300 790V794.5M368.8 790V794.5M437.6 790V794.5M507 790V794.5" fill="none" stroke="#000" stroke-width="2.1"/>
<g font-size="27.5" text-anchor="end">
<text transform="translate(213.5 777.4) scale(1 1.04)">0</text>
<text transform="translate(213.5 720.7) scale(1 1.04)">5</text>
<text transform="translate(213.5 664) scale(1 1.04)">10</text>
<text transform="translate(213.5 607.3) scale(1 1.04)">15</text>
<text transform="translate(213.5 550.6) scale(1 1.04)">20</text>
</g>
<g font-size="27.5" text-anchor="middle">
<text transform="translate(300 831.7) scale(1 1.04)">1</text>
<text transform="translate(368.8 831.7) scale(1 1.04)">2</text>
<text transform="translate(437.6 831.7) scale(1 1.04)">3</text>
<text transform="translate(507 831.7) scale(1 1.04)">4</text>
</g>
<path d="M300 616.3L368.8 657L437.6 692.8L507 741.4" fill="none" stroke="#000" stroke-width="2.2"/>
<path d="M300 602.6V630.1M295.5 602.6H304.5M295.5 630.1H304.5M368.8 653.1V660.8M364.3 653.1H373.3M364.3 660.8H373.3M437.6 682.9V702.7M433.1 682.9H442.1M433.1 702.7H442.1" fill="none" stroke="#000" stroke-width="2.1"/>
<g fill="#000">
<circle cx="300" cy="616.3" r="8.7"/>
<circle cx="368.8" cy="657" r="8.7"/>
<circle cx="437.6" cy="692.8" r="8.7"/>
<circle cx="507" cy="741.4" r="8.7"/>
</g>
<path d="M300 684.8L368.8 699.2L437.6 743L507 755.2" fill="none" stroke="#000" stroke-width="2.2"/>
<path d="M300 673.1V696.5M295.5 673.1H304.5M295.5 696.5H304.5M368.8 682.2V716.2M364.3 682.2H373.3M364.3 716.2H373.3M437.6 733.6V752.5M433.1 733.6H442.1M433.1 752.5H442.1" fill="none" stroke="#000" stroke-width="2.1"/>
<g fill="#fff" stroke="#000" stroke-width="2.2">
<circle cx="300" cy="684.8" r="7.5"/>
<circle cx="368.8" cy="699.2" r="7.5"/>
<circle cx="437.6" cy="743" r="7.5"/>
<circle cx="507" cy="755.2" r="7.5"/>
</g>
</g>
<g id="panel-f">
<path d="M780.9 539.9V790H1127.1M776.4 767.5H780.9M776.4 722.2H780.9M776.4 676.9H780.9M776.4 631.5H780.9M776.4 586.2H780.9M776.4 540.9H780.9M780.9 790V794.5M815.4 790V794.5M849.9 790V794.5M884.5 790V794.5M919 790V794.5M953.5 790V794.5M988 790V794.5M1022.5 790V794.5M1057.1 790V794.5M1091.6 790V794.5M1126.1 790V794.5" fill="none" stroke="#000" stroke-width="2.1"/>
<g font-size="27.5" text-anchor="end">
<text transform="translate(763.5 777.3) scale(1 1.04)">0.0</text>
<text transform="translate(763.5 732) scale(1 1.04)">0.2</text>
<text transform="translate(763.5 686.7) scale(1 1.04)">0.4</text>
<text transform="translate(763.5 641.3) scale(1 1.04)">0.6</text>
<text transform="translate(763.5 596) scale(1 1.04)">0.8</text>
<text transform="translate(763.5 550.7) scale(1 1.04)">1.0</text>
</g>
<g font-size="27.5" text-anchor="middle">
<text transform="translate(780.9 831.7) scale(1 1.04)">0</text>
<text transform="translate(815.4 831.7) scale(1 1.04)">2</text>
<text transform="translate(849.9 831.7) scale(1 1.04)">4</text>
<text transform="translate(884.5 831.7) scale(1 1.04)">6</text>
<text transform="translate(919 831.7) scale(1 1.04)">8</text>
<text transform="translate(953.5 831.7) scale(1 1.04)">10</text>
<text transform="translate(988 831.7) scale(1 1.04)">12</text>
<text transform="translate(1022.5 831.7) scale(1 1.04)">14</text>
<text transform="translate(1057.1 831.7) scale(1 1.04)">16</text>
<text transform="translate(1091.6 831.7) scale(1 1.04)">18</text>
<text transform="translate(1126.1 831.7) scale(1 1.04)">20</text>
</g>
<path d="M798.5 571L815.7 575.6L833 644.4L850.2 651.6L867.5 695.4L884.8 721.4L902 738L919.3 680.4L936.5 717.4L953.8 735.4L971.1 723.4L988.3 701.4L1005.6 751L1022.8 741L1040.1 728L1057.4 718L1074.6 750L1091.9 756.6L1109.1 742L1126.4 761" fill="none" stroke="#000" stroke-width="2.2"/>
<path d="M798.5 559.8V582.2M794 559.8H803M794 582.2H803M815.7 559.6V591.6M811.2 559.6H820.2M811.2 591.6H820.2M833 620V668.8M828.5 620H837.5M828.5 668.8H837.5M850.2 630.6V672.6M845.7 630.6H854.7M845.7 672.6H854.7M867.5 680.8V710M863 680.8H872M863 710H872M884.8 710.2V732.6M880.3 710.2H889.3M880.3 732.6H889.3M902 729V747M897.5 729H906.5M897.5 747H906.5M919.3 653.8V707M914.8 653.8H923.8M914.8 707H923.8M936.5 699.8V735M932 699.8H941M932 735H941M953.8 720.2V750.6M949.3 720.2H958.3M949.3 750.6H958.3M971.1 700V746.8M966.6 700H975.6M966.6 746.8H975.6M988.3 670.8V732M983.8 670.8H992.8M983.8 732H992.8M1005.6 739V763M1001.1 739H1010.1M1001.1 763H1010.1M1022.8 724V758M1018.3 724H1027.3M1018.3 758H1027.3M1040.1 712V744M1035.6 712H1044.6M1035.6 744H1044.6M1057.4 700.6V735.4M1052.9 700.6H1061.9M1052.9 735.4H1061.9M1074.6 737.4V762.6M1070.1 737.4H1079.1M1070.1 762.6H1079.1M1091.9 749.6V763.6M1087.4 749.6H1096.4M1087.4 763.6H1096.4M1109.1 720V764M1104.6 720H1113.6M1104.6 764H1113.6M1126.4 756V766M1121.9 756H1130.9M1121.9 766H1130.9" fill="none" stroke="#000" stroke-width="2.1"/>
<g fill="#000">
<circle cx="798.5" cy="571" r="8.7"/>
<circle cx="815.7" cy="575.6" r="8.7"/>
<circle cx="833" cy="644.4" r="8.7"/>
<circle cx="850.2" cy="651.6" r="8.7"/>
<circle cx="867.5" cy="695.4" r="8.7"/>
<circle cx="884.8" cy="721.4" r="8.7"/>
<circle cx="902" cy="738" r="8.7"/>
<circle cx="919.3" cy="680.4" r="8.7"/>
<circle cx="936.5" cy="717.4" r="8.7"/>
<circle cx="953.8" cy="735.4" r="8.7"/>
<circle cx="971.1" cy="723.4" r="8.7"/>
<circle cx="988.3" cy="701.4" r="8.7"/>
<circle cx="1005.6" cy="751" r="8.7"/>
<circle cx="1022.8" cy="741" r="8.7"/>
<circle cx="1040.1" cy="728" r="8.7"/>
<circle cx="1057.4" cy="718" r="8.7"/>
<circle cx="1074.6" cy="750" r="8.7"/>
<circle cx="1091.9" cy="756.6" r="8.7"/>
<circle cx="1109.1" cy="742" r="8.7"/>
<circle cx="1126.4" cy="761" r="8.7"/>
</g>
<path d="M798.5 592.4L815.7 647L833 662.6L850.2 677L867.5 650.6L884.8 689.6L902 679L919.3 730L936.5 704L953.8 702L971.1 742L988.3 672L1005.6 703.4L1022.8 743L1040.1 717L1057.4 722.4L1074.6 741.4L1091.9 732.6L1109.1 733L1126.4 745.6" fill="none" stroke="#000" stroke-width="2.2"/>
<path d="M798.5 572.8V612M794 572.8H803M794 612H803M815.7 623V671M811.2 623H820.2M811.2 671H820.2M833 641.8V683.4M828.5 641.8H837.5M828.5 683.4H837.5M850.2 654V700M845.7 654H854.7M845.7 700H854.7M867.5 624.4V676.8M863 624.4H872M863 676.8H872M884.8 658.4V720.8M880.3 658.4H889.3M880.3 720.8H889.3M902 653.8V704.2M897.5 653.8H906.5M897.5 704.2H906.5M919.3 713V747M914.8 713H923.8M914.8 747H923.8M936.5 676.6V731.4M932 676.6H941M932 731.4H941M953.8 675.4V728.6M949.3 675.4H958.3M949.3 728.6H958.3M971.1 725.4V758.6M966.6 725.4H975.6M966.6 758.6H975.6M988.3 644.4V699.6M983.8 644.4H992.8M983.8 699.6H992.8M1005.6 682.6V724.2M1001.1 682.6H1010.1M1001.1 724.2H1010.1M1022.8 728V758M1018.3 728H1027.3M1018.3 758H1027.3M1040.1 700.4V733.6M1035.6 700.4H1044.6M1035.6 733.6H1044.6M1057.4 700.8V744M1052.9 700.8H1061.9M1052.9 744H1061.9M1074.6 729V753.8M1070.1 729H1079.1M1070.1 753.8H1079.1M1091.9 720V745.2M1087.4 720H1096.4M1087.4 745.2H1096.4M1109.1 716.6V749.4M1104.6 716.6H1113.6M1104.6 749.4H1113.6M1126.4 731V760.2M1121.9 731H1130.9M1121.9 760.2H1130.9" fill="none" stroke="#000" stroke-width="2.1"/>
<g fill="#fff" stroke="#000" stroke-width="2.2">
<circle cx="798.5" cy="592.4" r="7.5"/>
<circle cx="815.7" cy="647" r="7.5"/>
<circle cx="833" cy="662.6" r="7.5"/>
<circle cx="850.2" cy="677" r="7.5"/>
<circle cx="867.5" cy="650.6" r="7.5"/>
<circle cx="884.8" cy="689.6" r="7.5"/>
<circle cx="902" cy="679" r="7.5"/>
<circle cx="919.3" cy="730" r="7.5"/>
<circle cx="936.5" cy="704" r="7.5"/>
<circle cx="953.8" cy="702" r="7.5"/>
<circle cx="971.1" cy="742" r="7.5"/>
<circle cx="988.3" cy="672" r="7.5"/>
<circle cx="1005.6" cy="703.4" r="7.5"/>
<circle cx="1022.8" cy="743" r="7.5"/>
<circle cx="1040.1" cy="717" r="7.5"/>
<circle cx="1057.4" cy="722.4" r="7.5"/>
<circle cx="1074.6" cy="741.4" r="7.5"/>
<circle cx="1091.9" cy="732.6" r="7.5"/>
<circle cx="1109.1" cy="733" r="7.5"/>
<circle cx="1126.4" cy="745.6" r="7.5"/>
</g>
</g>
<g id="panel-g">
<path d="M166.6 998.8V1248H512.9M162.1 1220.3H166.6M162.1 1165.2H166.6M162.1 1110.1H166.6M162.1 1054.9H166.6M162.1 999.8H166.6M166.6 1248V1252.5M201.1 1248V1252.5M235.6 1248V1252.5M270.2 1248V1252.5M304.7 1248V1252.5M339.2 1248V1252.5M373.7 1248V1252.5M408.2 1248V1252.5M442.8 1248V1252.5M477.3 1248V1252.5M511.8 1248V1252.5" fill="none" stroke="#000" stroke-width="2.1"/>
<g font-size="27.5" text-anchor="end">
<text transform="translate(149.2 1230.1) scale(1 1.04)">0</text>
<text transform="translate(149.2 1175) scale(1 1.04)">2</text>
<text transform="translate(149.2 1119.9) scale(1 1.04)">4</text>
<text transform="translate(149.2 1064.7) scale(1 1.04)">6</text>
<text transform="translate(149.2 1009.6) scale(1 1.04)">8</text>
</g>
<g font-size="27.5" text-anchor="middle">
<text transform="translate(166.6 1289.7) scale(1 1.04)">0</text>
<text transform="translate(201.1 1289.7) scale(1 1.04)">2</text>
<text transform="translate(235.6 1289.7) scale(1 1.04)">4</text>
<text transform="translate(270.2 1289.7) scale(1 1.04)">6</text>
<text transform="translate(304.7 1289.7) scale(1 1.04)">8</text>
<text transform="translate(339.2 1289.7) scale(1 1.04)">10</text>
<text transform="translate(373.7 1289.7) scale(1 1.04)">12</text>
<text transform="translate(408.2 1289.7) scale(1 1.04)">14</text>
<text transform="translate(442.8 1289.7) scale(1 1.04)">16</text>
<text transform="translate(477.3 1289.7) scale(1 1.04)">18</text>
<text transform="translate(511.8 1289.7) scale(1 1.04)">20</text>
</g>
<path d="M183.7 1037.4L200.9 1175L218.2 1092.4L235.4 1120L252.7 1140.6L270 1113L287.2 1120L304.5 1161.4L321.7 1154.4L339 1138L356.3 1165.4L373.5 1123.4L390.8 1144.4L408 1165L425.3 1162L442.6 1151L459.8 1161L477.1 1169L494.3 1164.4L511.6 1175" fill="none" stroke="#000" stroke-width="2.2"/>
<path d="M183.7 1008.6V1066.2M179.2 1008.6H188.2M179.2 1066.2H188.2M200.9 1165V1185M196.4 1165H205.4M196.4 1185H205.4M218.2 1066.6V1118.2M213.7 1066.6H222.7M213.7 1118.2H222.7M235.4 1102V1138M230.9 1102H239.9M230.9 1138H239.9M252.7 1123.6V1157.6M248.2 1123.6H257.2M248.2 1157.6H257.2M270 1088V1138M265.5 1088H274.5M265.5 1138H274.5M287.2 1111V1129M282.7 1111H291.7M282.7 1129H291.7M304.5 1144.8V1178M300 1144.8H309M300 1178H309M321.7 1133.4V1175.4M317.2 1133.4H326.2M317.2 1175.4H326.2M339 1123V1153M334.5 1123H343.5M334.5 1153H343.5M356.3 1150.8V1180M351.8 1150.8H360.8M351.8 1180H360.8M373.5 1102.4V1144.4M369 1102.4H378M369 1144.4H378M390.8 1122.8V1166M386.3 1122.8H395.3M386.3 1166H395.3M408 1153V1177M403.5 1153H412.5M403.5 1177H412.5M425.3 1154V1170M420.8 1154H429.8M420.8 1170H429.8M442.6 1133.4V1168.6M438.1 1133.4H447.1M438.1 1168.6H447.1M459.8 1152V1170M455.3 1152H464.3M455.3 1170H464.3M477.1 1155V1183M472.6 1155H481.6M472.6 1183H481.6M494.3 1153V1175.8M489.8 1153H498.8M489.8 1175.8H498.8M511.6 1160.6V1189.4M507.1 1160.6H516.1M507.1 1189.4H516.1" fill="none" stroke="#000" stroke-width="2.1"/>
<g fill="#000">
<circle cx="183.7" cy="1037.4" r="8.7"/>
<circle cx="200.9" cy="1175" r="8.7"/>
<circle cx="218.2" cy="1092.4" r="8.7"/>
<circle cx="235.4" cy="1120" r="8.7"/>
<circle cx="252.7" cy="1140.6" r="8.7"/>
<circle cx="270" cy="1113" r="8.7"/>
<circle cx="287.2" cy="1120" r="8.7"/>
<circle cx="304.5" cy="1161.4" r="8.7"/>
<circle cx="321.7" cy="1154.4" r="8.7"/>
<circle cx="339" cy="1138" r="8.7"/>
<circle cx="356.3" cy="1165.4" r="8.7"/>
<circle cx="373.5" cy="1123.4" r="8.7"/>
<circle cx="390.8" cy="1144.4" r="8.7"/>
<circle cx="408" cy="1165" r="8.7"/>
<circle cx="425.3" cy="1162" r="8.7"/>
<circle cx="442.6" cy="1151" r="8.7"/>
<circle cx="459.8" cy="1161" r="8.7"/>
<circle cx="477.1" cy="1169" r="8.7"/>
<circle cx="494.3" cy="1164.4" r="8.7"/>
<circle cx="511.6" cy="1175" r="8.7"/>
</g>
<path d="M183.7 1141L200.9 1158L218.2 1192.4L235.4 1179L252.7 1165L270 1144.4L287.2 1151.4L304.5 1158L321.7 1179L339 1140.6L356.3 1154.4L373.5 1179L390.8 1179L408 1182L425.3 1161.4L442.6 1158L459.8 1172L477.1 1161.4L494.3 1179L511.6 1169" fill="none" stroke="#000" stroke-width="2.2"/>
<path d="M183.7 1115.2V1166.8M179.2 1115.2H188.2M179.2 1166.8H188.2M200.9 1145V1171M196.4 1145H205.4M196.4 1171H205.4M218.2 1182.4V1202.4M213.7 1182.4H222.7M213.7 1202.4H222.7M235.4 1166.6V1191.4M230.9 1166.6H239.9M230.9 1191.4H239.9M252.7 1147.4V1182.6M248.2 1147.4H257.2M248.2 1182.6H257.2M270 1121.8V1167M265.5 1121.8H274.5M265.5 1167H274.5M287.2 1133.4V1169.4M282.7 1133.4H291.7M282.7 1169.4H291.7M304.5 1145V1171M300 1145H309M300 1171H309M321.7 1167.6V1190.4M317.2 1167.6H326.2M317.2 1190.4H326.2M339 1114.6V1166.6M334.5 1114.6H343.5M334.5 1166.6H343.5M356.3 1147V1161.8M351.8 1147H360.8M351.8 1161.8H360.8M373.5 1166.6V1191.4M369 1166.6H378M369 1191.4H378M390.8 1169.4V1188.6M386.3 1169.4H395.3M386.3 1188.6H395.3M408 1172V1192M403.5 1172H412.5M403.5 1192H412.5M425.3 1144.8V1178M420.8 1144.8H429.8M420.8 1178H429.8M442.6 1142.4V1173.6M438.1 1142.4H447.1M438.1 1173.6H447.1M459.8 1157V1187M455.3 1157H464.3M455.3 1187H464.3M477.1 1146V1176.8M472.6 1146H481.6M472.6 1176.8H481.6M494.3 1168V1190M489.8 1168H498.8M489.8 1190H498.8M511.6 1156V1182M507.1 1156H516.1M507.1 1182H516.1" fill="none" stroke="#000" stroke-width="2.1"/>
<g fill="#fff" stroke="#000" stroke-width="2.2">
<circle cx="183.7" cy="1141" r="7.5"/>
<circle cx="200.9" cy="1158" r="7.5"/>
<circle cx="218.2" cy="1192.4" r="7.5"/>
<circle cx="235.4" cy="1179" r="7.5"/>
<circle cx="252.7" cy="1165" r="7.5"/>
<circle cx="270" cy="1144.4" r="7.5"/>
<circle cx="287.2" cy="1151.4" r="7.5"/>
<circle cx="304.5" cy="1158" r="7.5"/>
<circle cx="321.7" cy="1179" r="7.5"/>
<circle cx="339" cy="1140.6" r="7.5"/>
<circle cx="356.3" cy="1154.4" r="7.5"/>
<circle cx="373.5" cy="1179" r="7.5"/>
<circle cx="390.8" cy="1179" r="7.5"/>
<circle cx="408" cy="1182" r="7.5"/>
<circle cx="425.3" cy="1161.4" r="7.5"/>
<circle cx="442.6" cy="1158" r="7.5"/>
<circle cx="459.8" cy="1172" r="7.5"/>
<circle cx="477.1" cy="1161.4" r="7.5"/>
<circle cx="494.3" cy="1179" r="7.5"/>
<circle cx="511.6" cy="1169" r="7.5"/>
</g>
</g>
<g id="panel-h">
<path d="M574.5 997.6V1246.5H920.8M570 1219.1H574.5M570 1164H574.5M570 1108.9H574.5M570 1053.7H574.5M570 998.6H574.5M574.5 1246.5V1251M609 1246.5V1251M643.5 1246.5V1251M678.1 1246.5V1251M712.6 1246.5V1251M747.1 1246.5V1251M781.6 1246.5V1251M816.1 1246.5V1251M850.7 1246.5V1251M885.2 1246.5V1251M919.7 1246.5V1251" fill="none" stroke="#000" stroke-width="2.1"/>
<g font-size="27.5" text-anchor="end">
<text transform="translate(557.1 1228.9) scale(1 1.04)">0</text>
<text transform="translate(557.1 1173.8) scale(1 1.04)">2</text>
<text transform="translate(557.1 1118.7) scale(1 1.04)">4</text>
<text transform="translate(557.1 1063.5) scale(1 1.04)">6</text>
<text transform="translate(557.1 1008.4) scale(1 1.04)">8</text>
</g>
<g font-size="27.5" text-anchor="middle">
<text transform="translate(574.5 1288.2) scale(1 1.04)">0</text>
<text transform="translate(609 1288.2) scale(1 1.04)">2</text>
<text transform="translate(643.5 1288.2) scale(1 1.04)">4</text>
<text transform="translate(678.1 1288.2) scale(1 1.04)">6</text>
<text transform="translate(712.6 1288.2) scale(1 1.04)">8</text>
<text transform="translate(747.1 1288.2) scale(1 1.04)">10</text>
<text transform="translate(781.6 1288.2) scale(1 1.04)">12</text>
<text transform="translate(816.1 1288.2) scale(1 1.04)">14</text>
<text transform="translate(850.7 1288.2) scale(1 1.04)">16</text>
<text transform="translate(885.2 1288.2) scale(1 1.04)">18</text>
<text transform="translate(919.7 1288.2) scale(1 1.04)">20</text>
</g>
<path d="M592 1074L609.3 1160.4L626.5 1160.4L643.8 1133L661 1160.4L678.2 1150L695.5 1160.4L712.7 1153L730 1158L747.2 1139.6L764.4 1129.4L781.7 1185L798.9 1150L816.2 1181L833.4 1167L850.6 1160L867.9 1181L885.1 1139.6L902.4 1179L919.6 1150" fill="none" stroke="#000" stroke-width="2.2"/>
<path d="M592 1058.4V1089.6M587.5 1058.4H596.5M587.5 1089.6H596.5M609.3 1146.4V1174.4M604.8 1146.4H613.8M604.8 1174.4H613.8M626.5 1145V1175.8M622 1145H631M622 1175.8H631M643.8 1113.2V1152.8M639.3 1113.2H648.3M639.3 1152.8H648.3M661 1149V1171.8M656.5 1149H665.5M656.5 1171.8H665.5M678.2 1128.4V1171.6M673.7 1128.4H682.7M673.7 1171.6H682.7M695.5 1148V1172.8M691 1148H700M691 1172.8H700M712.7 1136V1170M708.2 1136H717.2M708.2 1170H717.2M730 1145V1171M725.5 1145H734.5M725.5 1171H734.5M747.2 1125V1154.2M742.7 1125H751.7M742.7 1154.2H751.7M764.4 1108V1150.8M759.9 1108H768.9M759.9 1150.8H768.9M781.7 1172V1198M777.2 1172H786.2M777.2 1198H786.2M798.9 1135.4V1164.6M794.4 1135.4H803.4M794.4 1164.6H803.4M816.2 1171V1191M811.7 1171H820.7M811.7 1191H820.7M833.4 1146V1188M828.9 1146H837.9M828.9 1188H837.9M850.6 1145.2V1174.8M846.1 1145.2H855.1M846.1 1174.8H855.1M867.9 1177V1185M863.4 1177H872.4M863.4 1185H872.4M885.1 1123V1156.2M880.6 1123H889.6M880.6 1156.2H889.6M902.4 1163V1195M897.9 1163H906.9M897.9 1195H906.9M919.6 1129.8V1170.2M915.1 1129.8H924.1M915.1 1170.2H924.1" fill="none" stroke="#000" stroke-width="2.1"/>
<g fill="#000">
<circle cx="592" cy="1074" r="8.7"/>
<circle cx="609.3" cy="1160.4" r="8.7"/>
<circle cx="626.5" cy="1160.4" r="8.7"/>
<circle cx="643.8" cy="1133" r="8.7"/>
<circle cx="661" cy="1160.4" r="8.7"/>
<circle cx="678.2" cy="1150" r="8.7"/>
<circle cx="695.5" cy="1160.4" r="8.7"/>
<circle cx="712.7" cy="1153" r="8.7"/>
<circle cx="730" cy="1158" r="8.7"/>
<circle cx="747.2" cy="1139.6" r="8.7"/>
<circle cx="764.4" cy="1129.4" r="8.7"/>
<circle cx="781.7" cy="1185" r="8.7"/>
<circle cx="798.9" cy="1150" r="8.7"/>
<circle cx="816.2" cy="1181" r="8.7"/>
<circle cx="833.4" cy="1167" r="8.7"/>
<circle cx="850.6" cy="1160" r="8.7"/>
<circle cx="867.9" cy="1181" r="8.7"/>
<circle cx="885.1" cy="1139.6" r="8.7"/>
<circle cx="902.4" cy="1179" r="8.7"/>
<circle cx="919.6" cy="1150" r="8.7"/>
</g>
<path d="M592 1181L609.3 1219L626.5 1198.4L643.8 1184.4L661 1174.4L678.2 1178L695.5 1195L712.7 1181L730 1163.4L747.2 1177.6L764.4 1170.6L781.7 1177.6L798.9 1184.4L816.2 1174L833.4 1181L850.6 1195L867.9 1184.6L885.1 1174.4L902.4 1181L919.6 1181" fill="none" stroke="#000" stroke-width="2.2"/>
<path d="M643.8 1172V1196.8M639.3 1172H648.3M639.3 1196.8H648.3M661 1156.8V1192M656.5 1156.8H665.5M656.5 1192H665.5M678.2 1168V1188M673.7 1168H682.7M673.7 1188H682.7M712.7 1168V1194M708.2 1168H717.2M708.2 1194H717.2M730 1149.4V1177.4M725.5 1149.4H734.5M725.5 1177.4H734.5M747.2 1164.6V1190.6M742.7 1164.6H751.7M742.7 1190.6H751.7M764.4 1156V1185.2M759.9 1156H768.9M759.9 1185.2H768.9M781.7 1164.6V1190.6M777.2 1164.6H786.2M777.2 1190.6H786.2M816.2 1160.4V1187.6M811.7 1160.4H820.7M811.7 1187.6H820.7M833.4 1169.4V1192.6M828.9 1169.4H837.9M828.9 1192.6H837.9M867.9 1174.6V1194.6M863.4 1174.6H872.4M863.4 1194.6H872.4M885.1 1154.8V1194M880.6 1154.8H889.6M880.6 1194H889.6M902.4 1167.4V1194.6M897.9 1167.4H906.9M897.9 1194.6H906.9" fill="none" stroke="#000" stroke-width="2.1"/>
<g fill="#fff" stroke="#000" stroke-width="2.2">
<circle cx="592" cy="1181" r="7.5"/>
<circle cx="609.3" cy="1219" r="7.5"/>
<circle cx="626.5" cy="1198.4" r="7.5"/>
<circle cx="643.8" cy="1184.4" r="7.5"/>
<circle cx="661" cy="1174.4" r="7.5"/>
<circle cx="678.2" cy="1178" r="7.5"/>
<circle cx="695.5" cy="1195" r="7.5"/>
<circle cx="712.7" cy="1181" r="7.5"/>
<circle cx="730" cy="1163.4" r="7.5"/>
<circle cx="747.2" cy="1177.6" r="7.5"/>
<circle cx="764.4" cy="1170.6" r="7.5"/>
<circle cx="781.7" cy="1177.6" r="7.5"/>
<circle cx="798.9" cy="1184.4" r="7.5"/>
<circle cx="816.2" cy="1174" r="7.5"/>
<circle cx="833.4" cy="1181" r="7.5"/>
<circle cx="850.6" cy="1195" r="7.5"/>
<circle cx="867.9" cy="1184.6" r="7.5"/>
<circle cx="885.1" cy="1174.4" r="7.5"/>
<circle cx="902.4" cy="1181" r="7.5"/>
<circle cx="919.6" cy="1181" r="7.5"/>
</g>
</g>
<g id="panel-i">
<path d="M983 999.4V1248.2H1329.2M978.5 1220.9H983M978.5 1165.8H983M978.5 1110.7H983M978.5 1055.5H983M978.5 1000.4H983M983 1248.2V1252.7M1017.5 1248.2V1252.7M1052 1248.2V1252.7M1086.5 1248.2V1252.7M1121 1248.2V1252.7M1155.6 1248.2V1252.7M1190.1 1248.2V1252.7M1224.6 1248.2V1252.7M1259.1 1248.2V1252.7M1293.6 1248.2V1252.7M1328.2 1248.2V1252.7" fill="none" stroke="#000" stroke-width="2.1"/>
<g font-size="27.5" text-anchor="end">
<text transform="translate(965.6 1230.7) scale(1 1.04)">0</text>
<text transform="translate(965.6 1175.6) scale(1 1.04)">2</text>
<text transform="translate(965.6 1120.5) scale(1 1.04)">4</text>
<text transform="translate(965.6 1065.3) scale(1 1.04)">6</text>
<text transform="translate(965.6 1010.2) scale(1 1.04)">8</text>
</g>
<g font-size="27.5" text-anchor="middle">
<text transform="translate(983 1289.9) scale(1 1.04)">0</text>
<text transform="translate(1017.5 1289.9) scale(1 1.04)">2</text>
<text transform="translate(1052 1289.9) scale(1 1.04)">4</text>
<text transform="translate(1086.5 1289.9) scale(1 1.04)">6</text>
<text transform="translate(1121 1289.9) scale(1 1.04)">8</text>
<text transform="translate(1155.6 1289.9) scale(1 1.04)">10</text>
<text transform="translate(1190.1 1289.9) scale(1 1.04)">12</text>
<text transform="translate(1224.6 1289.9) scale(1 1.04)">14</text>
<text transform="translate(1259.1 1289.9) scale(1 1.04)">16</text>
<text transform="translate(1293.6 1289.9) scale(1 1.04)">18</text>
<text transform="translate(1328.2 1289.9) scale(1 1.04)">20</text>
</g>
<path d="M1000.5 1123.6L1017.7 1162L1035 1155.4L1052.2 1162L1069.5 1158.4L1086.8 1165.4L1104 1162L1121.3 1162L1138.5 1162L1155.8 1168.4L1173.1 1168.4L1190.3 1172L1207.6 1165.4L1224.8 1178L1242.1 1165.4L1259.4 1172L1276.6 1183L1293.9 1165L1311.1 1179L1328.4 1179" fill="none" stroke="#000" stroke-width="2.2"/>
<path d="M1000.5 1115.6V1131.6M996 1115.6H1005M996 1131.6H1005M1017.7 1152.4V1171.6M1013.2 1152.4H1022.2M1013.2 1171.6H1022.2M1035 1139.8V1171M1030.5 1139.8H1039.5M1030.5 1171H1039.5M1052.2 1151.2V1172.8M1047.7 1151.2H1056.7M1047.7 1172.8H1056.7M1069.5 1141V1175.8M1065 1141H1074M1065 1175.8H1074M1086.8 1150V1180.8M1082.3 1150H1091.3M1082.3 1180.8H1091.3M1104 1145V1179M1099.5 1145H1108.5M1099.5 1179H1108.5M1121.3 1148.8V1175.2M1116.8 1148.8H1125.8M1116.8 1175.2H1125.8M1155.8 1156.6V1180.2M1151.3 1156.6H1160.3M1151.3 1180.2H1160.3M1173.1 1153.6V1183.2M1168.6 1153.6H1177.6M1168.6 1183.2H1177.6M1190.3 1157.4V1186.6M1185.8 1157.4H1194.8M1185.8 1186.6H1194.8M1207.6 1152.4V1178.4M1203.1 1152.4H1212.1M1203.1 1178.4H1212.1M1224.8 1166.6V1189.4M1220.3 1166.6H1229.3M1220.3 1189.4H1229.3M1242.1 1146V1184.8M1237.6 1146H1246.6M1237.6 1184.8H1246.6M1259.4 1160V1184M1254.9 1160H1263.9M1254.9 1184H1263.9M1276.6 1169V1197M1272.1 1169H1281.1M1272.1 1197H1281.1M1293.9 1158V1172M1289.4 1158H1298.4M1289.4 1172H1298.4M1311.1 1173V1185M1306.6 1173H1315.6M1306.6 1185H1315.6M1328.4 1166.6V1191.4M1323.9 1166.6H1332.9M1323.9 1191.4H1332.9" fill="none" stroke="#000" stroke-width="2.1"/>
<g fill="#000">
<circle cx="1000.5" cy="1123.6" r="8.7"/>
<circle cx="1017.7" cy="1162" r="8.7"/>
<circle cx="1035" cy="1155.4" r="8.7"/>
<circle cx="1052.2" cy="1162" r="8.7"/>
<circle cx="1069.5" cy="1158.4" r="8.7"/>
<circle cx="1086.8" cy="1165.4" r="8.7"/>
<circle cx="1104" cy="1162" r="8.7"/>
<circle cx="1121.3" cy="1162" r="8.7"/>
<circle cx="1138.5" cy="1162" r="8.7"/>
<circle cx="1155.8" cy="1168.4" r="8.7"/>
<circle cx="1173.1" cy="1168.4" r="8.7"/>
<circle cx="1190.3" cy="1172" r="8.7"/>
<circle cx="1207.6" cy="1165.4" r="8.7"/>
<circle cx="1224.8" cy="1178" r="8.7"/>
<circle cx="1242.1" cy="1165.4" r="8.7"/>
<circle cx="1259.4" cy="1172" r="8.7"/>
<circle cx="1276.6" cy="1183" r="8.7"/>
<circle cx="1293.9" cy="1165" r="8.7"/>
<circle cx="1311.1" cy="1179" r="8.7"/>
<circle cx="1328.4" cy="1179" r="8.7"/>
</g>
<path d="M1000.5 1165.4L1017.7 1196.4L1035 1196.4L1052.2 1189.6L1069.5 1189.6L1086.8 1200L1104 1183L1121.3 1196.4L1138.5 1186L1155.8 1183L1173.1 1182.6L1190.3 1182.6L1207.6 1189.6L1224.8 1186L1242.1 1189.6L1259.4 1183L1276.6 1186L1293.9 1186L1311.1 1179L1328.4 1189.6" fill="none" stroke="#000" stroke-width="2.2"/>
<path d="M1000.5 1154.8V1176M996 1154.8H1005M996 1176H1005M1052.2 1180V1199.2M1047.7 1180H1056.7M1047.7 1199.2H1056.7M1069.5 1181.2V1198M1065 1181.2H1074M1065 1198H1074M1121.3 1188V1204.8M1116.8 1188H1125.8M1116.8 1204.8H1125.8M1155.8 1174V1192M1151.3 1174H1160.3M1151.3 1192H1160.3M1173.1 1173.6V1191.6M1168.6 1173.6H1177.6M1168.6 1191.6H1177.6M1190.3 1172.2V1193M1185.8 1172.2H1194.8M1185.8 1193H1194.8M1207.6 1179.8V1199.4M1203.1 1179.8H1212.1M1203.1 1199.4H1212.1M1224.8 1173V1199M1220.3 1173H1229.3M1220.3 1199H1229.3M1259.4 1169.4V1196.6M1254.9 1169.4H1263.9M1254.9 1196.6H1263.9M1276.6 1176V1196M1272.1 1176H1281.1M1272.1 1196H1281.1M1293.9 1176V1196M1289.4 1176H1298.4M1289.4 1196H1298.4M1311.1 1166.4V1191.6M1306.6 1166.4H1315.6M1306.6 1191.6H1315.6M1328.4 1181.2V1198M1323.9 1181.2H1332.9M1323.9 1198H1332.9" fill="none" stroke="#000" stroke-width="2.1"/>
<g fill="#fff" stroke="#000" stroke-width="2.2">
<circle cx="1000.5" cy="1165.4" r="7.5"/>
<circle cx="1017.7" cy="1196.4" r="7.5"/>
<circle cx="1035" cy="1196.4" r="7.5"/>
<circle cx="1052.2" cy="1189.6" r="7.5"/>
<circle cx="1069.5" cy="1189.6" r="7.5"/>
<circle cx="1086.8" cy="1200" r="7.5"/>
<circle cx="1104" cy="1183" r="7.5"/>
<circle cx="1121.3" cy="1196.4" r="7.5"/>
<circle cx="1138.5" cy="1186" r="7.5"/>
<circle cx="1155.8" cy="1183" r="7.5"/>
<circle cx="1173.1" cy="1182.6" r="7.5"/>
<circle cx="1190.3" cy="1182.6" r="7.5"/>
<circle cx="1207.6" cy="1189.6" r="7.5"/>
<circle cx="1224.8" cy="1186" r="7.5"/>
<circle cx="1242.1" cy="1189.6" r="7.5"/>
<circle cx="1259.4" cy="1183" r="7.5"/>
<circle cx="1276.6" cy="1186" r="7.5"/>
<circle cx="1293.9" cy="1186" r="7.5"/>
<circle cx="1311.1" cy="1179" r="7.5"/>
<circle cx="1328.4" cy="1189.6" r="7.5"/>
</g>
</g>
<g id="panel-j">
<path d="M1389.2 1000.5V1249.4H1735.5M1384.7 1222H1389.2M1384.7 1166.9H1389.2M1384.7 1111.8H1389.2M1384.7 1056.6H1389.2M1384.7 1001.5H1389.2M1389.2 1249.4V1253.9M1423.7 1249.4V1253.9M1458.2 1249.4V1253.9M1492.8 1249.4V1253.9M1527.3 1249.4V1253.9M1561.8 1249.4V1253.9M1596.3 1249.4V1253.9M1630.8 1249.4V1253.9M1665.4 1249.4V1253.9M1699.9 1249.4V1253.9M1734.4 1249.4V1253.9" fill="none" stroke="#000" stroke-width="2.1"/>
<g font-size="27.5" text-anchor="end">
<text transform="translate(1371.8 1231.8) scale(1 1.04)">0</text>
<text transform="translate(1371.8 1176.7) scale(1 1.04)">2</text>
<text transform="translate(1371.8 1121.6) scale(1 1.04)">4</text>
<text transform="translate(1371.8 1066.4) scale(1 1.04)">6</text>
<text transform="translate(1371.8 1011.3) scale(1 1.04)">8</text>
</g>
<g font-size="27.5" text-anchor="middle">
<text transform="translate(1389.2 1291.1) scale(1 1.04)">0</text>
<text transform="translate(1423.7 1291.1) scale(1 1.04)">2</text>
<text transform="translate(1458.2 1291.1) scale(1 1.04)">4</text>
<text transform="translate(1492.8 1291.1) scale(1 1.04)">6</text>
<text transform="translate(1527.3 1291.1) scale(1 1.04)">8</text>
<text transform="translate(1561.8 1291.1) scale(1 1.04)">10</text>
<text transform="translate(1596.3 1291.1) scale(1 1.04)">12</text>
<text transform="translate(1630.8 1291.1) scale(1 1.04)">14</text>
<text transform="translate(1665.4 1291.1) scale(1 1.04)">16</text>
<text transform="translate(1699.9 1291.1) scale(1 1.04)">18</text>
<text transform="translate(1734.4 1291.1) scale(1 1.04)">20</text>
</g>
<path d="M1406.7 1132L1423.9 1177L1441.2 1163L1458.4 1156L1475.7 1149.4L1493 1184.4L1510.2 1152.6L1527.5 1166.6L1544.7 1184L1562 1156L1579.3 1159.6L1596.5 1152.6L1613.8 1163L1631 1173.6L1648.3 1174L1665.6 1163L1682.8 1194L1700.1 1170L1717.3 1149.4L1734.6 1185" fill="none" stroke="#000" stroke-width="2.2"/>
<path d="M1406.7 1118.6V1145.4M1402.2 1118.6H1411.2M1402.2 1145.4H1411.2M1423.9 1166V1188M1419.4 1166H1428.4M1419.4 1188H1428.4M1441.2 1146.4V1179.6M1436.7 1146.4H1445.7M1436.7 1179.6H1445.7M1458.4 1139.6V1172.4M1453.9 1139.6H1462.9M1453.9 1172.4H1462.9M1475.7 1132.4V1166.4M1471.2 1132.4H1480.2M1471.2 1166.4H1480.2M1493 1171.4V1197.4M1488.5 1171.4H1497.5M1488.5 1197.4H1497.5M1510.2 1137.4V1167.8M1505.7 1137.4H1514.7M1505.7 1167.8H1514.7M1527.5 1144V1189.2M1523 1144H1532M1523 1189.2H1532M1562 1135V1177M1557.5 1135H1566.5M1557.5 1177H1566.5M1579.3 1145.2V1174M1574.8 1145.2H1583.8M1574.8 1174H1583.8M1596.5 1137.2V1168M1592 1137.2H1601M1592 1168H1601M1613.8 1153.4V1172.6M1609.3 1153.4H1618.3M1609.3 1172.6H1618.3M1631 1161.6V1185.6M1626.5 1161.6H1635.5M1626.5 1185.6H1635.5M1648.3 1162.4V1185.6M1643.8 1162.4H1652.8M1643.8 1185.6H1652.8M1665.6 1147.4V1178.6M1661.1 1147.4H1670.1M1661.1 1178.6H1670.1M1700.1 1155.4V1184.6M1695.6 1155.4H1704.6M1695.6 1184.6H1704.6M1717.3 1128V1170.8M1712.8 1128H1721.8M1712.8 1170.8H1721.8M1734.6 1177.4V1192.6M1730.1 1177.4H1739.1M1730.1 1192.6H1739.1" fill="none" stroke="#000" stroke-width="2.1"/>
<g fill="#000">
<circle cx="1406.7" cy="1132" r="8.7"/>
<circle cx="1423.9" cy="1177" r="8.7"/>
<circle cx="1441.2" cy="1163" r="8.7"/>
<circle cx="1458.4" cy="1156" r="8.7"/>
<circle cx="1475.7" cy="1149.4" r="8.7"/>
<circle cx="1493" cy="1184.4" r="8.7"/>
<circle cx="1510.2" cy="1152.6" r="8.7"/>
<circle cx="1527.5" cy="1166.6" r="8.7"/>
<circle cx="1544.7" cy="1184" r="8.7"/>
<circle cx="1562" cy="1156" r="8.7"/>
<circle cx="1579.3" cy="1159.6" r="8.7"/>
<circle cx="1596.5" cy="1152.6" r="8.7"/>
<circle cx="1613.8" cy="1163" r="8.7"/>
<circle cx="1631" cy="1173.6" r="8.7"/>
<circle cx="1648.3" cy="1174" r="8.7"/>
<circle cx="1665.6" cy="1163" r="8.7"/>
<circle cx="1682.8" cy="1194" r="8.7"/>
<circle cx="1700.1" cy="1170" r="8.7"/>
<circle cx="1717.3" cy="1149.4" r="8.7"/>
<circle cx="1734.6" cy="1185" r="8.7"/>
</g>
<path d="M1406.7 1170L1423.9 1187.6L1441.2 1201.4L1458.4 1194.4L1475.7 1194.4L1493 1173.6L1510.2 1173.6L1527.5 1191L1544.7 1194.4L1562 1159.6L1579.3 1184L1596.5 1184L1613.8 1187.6L1631 1173.6L1648.3 1166.6L1665.6 1194.4L1682.8 1204.6L1700.1 1180.6L1717.3 1191L1734.6 1180.6" fill="none" stroke="#000" stroke-width="2.2"/>
<path d="M1406.7 1161.6V1178.4M1402.2 1161.6H1411.2M1402.2 1178.4H1411.2M1423.9 1177.8V1197.4M1419.4 1177.8H1428.4M1419.4 1197.4H1428.4M1458.4 1182.8V1206M1453.9 1182.8H1462.9M1453.9 1206H1462.9M1475.7 1184V1204.8M1471.2 1184H1480.2M1471.2 1204.8H1480.2M1493 1159V1188.2M1488.5 1159H1497.5M1488.5 1188.2H1497.5M1510.2 1165.2V1182M1505.7 1165.2H1514.7M1505.7 1182H1514.7M1527.5 1183V1199M1523 1183H1532M1523 1199H1532M1562 1140.2V1179M1557.5 1140.2H1566.5M1557.5 1179H1566.5M1579.3 1174V1194M1574.8 1174H1583.8M1574.8 1194H1583.8M1596.5 1168.4V1199.6M1592 1168.4H1601M1592 1199.6H1601M1613.8 1176.6V1198.6M1609.3 1176.6H1618.3M1609.3 1198.6H1618.3M1631 1159.4V1187.8M1626.5 1159.4H1635.5M1626.5 1187.8H1635.5M1648.3 1153V1180.2M1643.8 1153H1652.8M1643.8 1180.2H1652.8M1700.1 1167.2V1194M1695.6 1167.2H1704.6M1695.6 1194H1704.6M1717.3 1180.2V1201.8M1712.8 1180.2H1721.8M1712.8 1201.8H1721.8M1734.6 1168V1193.2M1730.1 1168H1739.1M1730.1 1193.2H1739.1" fill="none" stroke="#000" stroke-width="2.1"/>
<g fill="#fff" stroke="#000" stroke-width="2.2">
<circle cx="1406.7" cy="1170" r="7.5"/>
<circle cx="1423.9" cy="1187.6" r="7.5"/>
<circle cx="1441.2" cy="1201.4" r="7.5"/>
<circle cx="1458.4" cy="1194.4" r="7.5"/>
<circle cx="1475.7" cy="1194.4" r="7.5"/>
<circle cx="1493" cy="1173.6" r="7.5"/>
<circle cx="1510.2" cy="1173.6" r="7.5"/>
<circle cx="1527.5" cy="1191" r="7.5"/>
<circle cx="1544.7" cy="1194.4" r="7.5"/>
<circle cx="1562" cy="1159.6" r="7.5"/>
<circle cx="1579.3" cy="1184" r="7.5"/>
<circle cx="1596.5" cy="1184" r="7.5"/>
<circle cx="1613.8" cy="1187.6" r="7.5"/>
<circle cx="1631" cy="1173.6" r="7.5"/>
<circle cx="1648.3" cy="1166.6" r="7.5"/>
<circle cx="1665.6" cy="1194.4" r="7.5"/>
<circle cx="1682.8" cy="1204.6" r="7.5"/>
<circle cx="1700.1" cy="1180.6" r="7.5"/>
<circle cx="1717.3" cy="1191" r="7.5"/>
<circle cx="1734.6" cy="1180.6" r="7.5"/>
</g>
</g>
<g id="panel-k">
<path d="M231.1 1419.2V1668.9H576.8M226.6 1641.7H231.1M226.6 1586.3H231.1M226.6 1530.9H231.1M226.6 1475.5H231.1M226.6 1420.1H231.1M231.1 1668.9V1673.4M300 1668.9V1673.4M368.8 1668.9V1673.4M437.6 1668.9V1673.4M507 1668.9V1673.4" fill="none" stroke="#000" stroke-width="2.1"/>
<g font-size="27.5" text-anchor="end">
<text transform="translate(213.7 1651.5) scale(1 1.04)">0</text>
<text transform="translate(213.7 1596.1) scale(1 1.04)">1</text>
<text transform="translate(213.7 1540.7) scale(1 1.04)">2</text>
<text transform="translate(213.7 1485.3) scale(1 1.04)">3</text>
<text transform="translate(213.7 1429.9) scale(1 1.04)">4</text>
</g>
<g font-size="27.5" text-anchor="middle">
<text transform="translate(300 1710.6) scale(1 1.04)">1</text>
<text transform="translate(368.8 1710.6) scale(1 1.04)">2</text>
<text transform="translate(437.6 1710.6) scale(1 1.04)">3</text>
<text transform="translate(507 1710.6) scale(1 1.04)">4</text>
</g>
<path d="M300 1484.2L368.8 1510.4L437.6 1531.2L507 1528" fill="none" stroke="#000" stroke-width="2.2"/>
<path d="M300 1467.2V1501.2M295.5 1467.2H304.5M295.5 1501.2H304.5M368.8 1500.8V1520M364.3 1500.8H373.3M364.3 1520H373.3M437.6 1518.4V1544M433.1 1518.4H442.1M433.1 1544H442.1M507 1515.9V1540.2M502.5 1515.9H511.5M502.5 1540.2H511.5" fill="none" stroke="#000" stroke-width="2.1"/>
<g fill="#000">
<circle cx="300" cy="1484.2" r="8.7"/>
<circle cx="368.8" cy="1510.4" r="8.7"/>
<circle cx="437.6" cy="1531.2" r="8.7"/>
<circle cx="507" cy="1528" r="8.7"/>
</g>
<path d="M300 1531.2L368.8 1569L437.6 1573.8L507 1565.8" fill="none" stroke="#000" stroke-width="2.2"/>
<path d="M300 1516.2V1546.3M295.5 1516.2H304.5M295.5 1546.3H304.5M368.8 1560.7V1577.3M364.3 1560.7H373.3M364.3 1577.3H373.3M507 1555.6V1576M502.5 1555.6H511.5M502.5 1576H511.5" fill="none" stroke="#000" stroke-width="2.1"/>
<g fill="#fff" stroke="#000" stroke-width="2.2">
<circle cx="300" cy="1531.2" r="7.5"/>
<circle cx="368.8" cy="1569" r="7.5"/>
<circle cx="437.6" cy="1573.8" r="7.5"/>
<circle cx="507" cy="1565.8" r="7.5"/>
</g>
</g>
<g id="panel-l">
<path d="M781.4 1419.2V1668.9H1127.6M776.9 1646.5H781.4M776.9 1601.3H781.4M776.9 1556H781.4M776.9 1510.8H781.4M776.9 1465.5H781.4M776.9 1420.3H781.4M781.4 1668.9V1673.4M815.9 1668.9V1673.4M850.4 1668.9V1673.4M885 1668.9V1673.4M919.5 1668.9V1673.4M954 1668.9V1673.4M988.5 1668.9V1673.4M1023 1668.9V1673.4M1057.6 1668.9V1673.4M1092.1 1668.9V1673.4M1126.6 1668.9V1673.4" fill="none" stroke="#000" stroke-width="2.1"/>
<g font-size="27.5" text-anchor="end">
<text transform="translate(764 1656.3) scale(1 1.04)">0.0</text>
<text transform="translate(764 1611.1) scale(1 1.04)">0.2</text>
<text transform="translate(764 1565.8) scale(1 1.04)">0.4</text>
<text transform="translate(764 1520.6) scale(1 1.04)">0.6</text>
<text transform="translate(764 1475.3) scale(1 1.04)">0.8</text>
<text transform="translate(764 1430.1) scale(1 1.04)">1.0</text>
</g>
<g font-size="27.5" text-anchor="middle">
<text transform="translate(781.4 1710.6) scale(1 1.04)">0</text>
<text transform="translate(815.9 1710.6) scale(1 1.04)">2</text>
<text transform="translate(850.4 1710.6) scale(1 1.04)">4</text>
<text transform="translate(885 1710.6) scale(1 1.04)">6</text>
<text transform="translate(919.5 1710.6) scale(1 1.04)">8</text>
<text transform="translate(954 1710.6) scale(1 1.04)">10</text>
<text transform="translate(988.5 1710.6) scale(1 1.04)">12</text>
<text transform="translate(1023 1710.6) scale(1 1.04)">14</text>
<text transform="translate(1057.6 1710.6) scale(1 1.04)">16</text>
<text transform="translate(1092.1 1710.6) scale(1 1.04)">18</text>
<text transform="translate(1126.6 1710.6) scale(1 1.04)">20</text>
</g>
<path d="M798.5 1452.4L815.7 1593.6L833 1510.6L850.2 1534L867.5 1552L884.8 1532.4L902 1529L919.3 1586L936.5 1567L953.8 1549.6L971.1 1585.6L988.3 1541L1005.6 1568L1022.8 1579L1040.1 1576L1057.4 1567L1074.6 1577L1091.9 1581L1109.1 1585L1126.4 1598" fill="none" stroke="#000" stroke-width="2.2"/>
<path d="M798.5 1433.4V1471.4M794 1433.4H803M794 1471.4H803M815.7 1580.2V1607M811.2 1580.2H820.2M811.2 1607H820.2M833 1489V1532.2M828.5 1489H837.5M828.5 1532.2H837.5M850.2 1513.6V1554.4M845.7 1513.6H854.7M845.7 1554.4H854.7M867.5 1529V1575M863 1529H872M863 1575H872M884.8 1508.4V1556.4M880.3 1508.4H889.3M880.3 1556.4H889.3M902 1512V1546M897.5 1512H906.5M897.5 1546H906.5M919.3 1567.8V1604.2M914.8 1567.8H923.8M914.8 1604.2H923.8M936.5 1541.4V1592.6M932 1541.4H941M932 1592.6H941M953.8 1531.2V1568M949.3 1531.2H958.3M949.3 1568H958.3M971.1 1568V1603.2M966.6 1568H975.6M966.6 1603.2H975.6M988.3 1515.4V1566.6M983.8 1515.4H992.8M983.8 1566.6H992.8M1005.6 1551V1585M1001.1 1551H1010.1M1001.1 1585H1010.1M1022.8 1560V1598M1018.3 1560H1027.3M1018.3 1598H1027.3M1040.1 1559.4V1592.6M1035.6 1559.4H1044.6M1035.6 1592.6H1044.6M1057.4 1547.4V1586.6M1052.9 1547.4H1061.9M1052.9 1586.6H1061.9M1074.6 1564V1590M1070.1 1564H1079.1M1070.1 1590H1079.1M1091.9 1557V1605M1087.4 1557H1096.4M1087.4 1605H1096.4M1109.1 1571V1599M1104.6 1571H1113.6M1104.6 1599H1113.6M1126.4 1583V1613M1121.9 1583H1130.9M1121.9 1613H1130.9" fill="none" stroke="#000" stroke-width="2.1"/>
<g fill="#000">
<circle cx="798.5" cy="1452.4" r="8.7"/>
<circle cx="815.7" cy="1593.6" r="8.7"/>
<circle cx="833" cy="1510.6" r="8.7"/>
<circle cx="850.2" cy="1534" r="8.7"/>
<circle cx="867.5" cy="1552" r="8.7"/>
<circle cx="884.8" cy="1532.4" r="8.7"/>
<circle cx="902" cy="1529" r="8.7"/>
<circle cx="919.3" cy="1586" r="8.7"/>
<circle cx="936.5" cy="1567" r="8.7"/>
<circle cx="953.8" cy="1549.6" r="8.7"/>
<circle cx="971.1" cy="1585.6" r="8.7"/>
<circle cx="988.3" cy="1541" r="8.7"/>
<circle cx="1005.6" cy="1568" r="8.7"/>
<circle cx="1022.8" cy="1579" r="8.7"/>
<circle cx="1040.1" cy="1576" r="8.7"/>
<circle cx="1057.4" cy="1567" r="8.7"/>
<circle cx="1074.6" cy="1577" r="8.7"/>
<circle cx="1091.9" cy="1581" r="8.7"/>
<circle cx="1109.1" cy="1585" r="8.7"/>
<circle cx="1126.4" cy="1598" r="8.7"/>
</g>
<path d="M798.5 1529.6L815.7 1542.6L833 1600.6L850.2 1583.6L867.5 1558.6L884.8 1523L902 1528.6L919.3 1533L936.5 1567L953.8 1526.4L971.1 1526L988.3 1590L1005.6 1573.6L1022.8 1574.6L1040.1 1546L1057.4 1551L1074.6 1582L1091.9 1556L1109.1 1570L1126.4 1563" fill="none" stroke="#000" stroke-width="2.2"/>
<path d="M798.5 1496.6V1562.6M794 1496.6H803M794 1562.6H803M815.7 1517.6V1567.6M811.2 1517.6H820.2M811.2 1567.6H820.2M833 1583.4V1617.8M828.5 1583.4H837.5M828.5 1617.8H837.5M850.2 1565V1602.2M845.7 1565H854.7M845.7 1602.2H854.7M867.5 1530.8V1586.4M863 1530.8H872M863 1586.4H872M884.8 1490.6V1555.4M880.3 1490.6H889.3M880.3 1555.4H889.3M902 1502.4V1554.8M897.5 1502.4H906.5M897.5 1554.8H906.5M919.3 1512V1554M914.8 1512H923.8M914.8 1554H923.8M936.5 1542.8V1591.2M932 1542.8H941M932 1591.2H941M953.8 1502.6V1550.2M949.3 1502.6H958.3M949.3 1550.2H958.3M971.1 1501V1551M966.6 1501H975.6M966.6 1551H975.6M988.3 1577V1603M983.8 1577H992.8M983.8 1603H992.8M1005.6 1552.2V1595M1001.1 1552.2H1010.1M1001.1 1595H1010.1M1022.8 1551V1598.2M1018.3 1551H1027.3M1018.3 1598.2H1027.3M1040.1 1520.6V1571.4M1035.6 1520.6H1044.6M1035.6 1571.4H1044.6M1057.4 1531V1571M1052.9 1531H1061.9M1052.9 1571H1061.9M1074.6 1565V1599M1070.1 1565H1079.1M1070.1 1599H1079.1M1091.9 1530V1582M1087.4 1530H1096.4M1087.4 1582H1096.4M1109.1 1551.6V1588.4M1104.6 1551.6H1113.6M1104.6 1588.4H1113.6M1126.4 1539.6V1586.4M1121.9 1539.6H1130.9M1121.9 1586.4H1130.9" fill="none" stroke="#000" stroke-width="2.1"/>
<g fill="#fff" stroke="#000" stroke-width="2.2">
<circle cx="798.5" cy="1529.6" r="7.5"/>
<circle cx="815.7" cy="1542.6" r="7.5"/>
<circle cx="833" cy="1600.6" r="7.5"/>
<circle cx="850.2" cy="1583.6" r="7.5"/>
<circle cx="867.5" cy="1558.6" r="7.5"/>
<circle cx="884.8" cy="1523" r="7.5"/>
<circle cx="902" cy="1528.6" r="7.5"/>
<circle cx="919.3" cy="1533" r="7.5"/>
<circle cx="936.5" cy="1567" r="7.5"/>
<circle cx="953.8" cy="1526.4" r="7.5"/>
<circle cx="971.1" cy="1526" r="7.5"/>
<circle cx="988.3" cy="1590" r="7.5"/>
<circle cx="1005.6" cy="1573.6" r="7.5"/>
<circle cx="1022.8" cy="1574.6" r="7.5"/>
<circle cx="1040.1" cy="1546" r="7.5"/>
<circle cx="1057.4" cy="1551" r="7.5"/>
<circle cx="1074.6" cy="1582" r="7.5"/>
<circle cx="1091.9" cy="1556" r="7.5"/>
<circle cx="1109.1" cy="1570" r="7.5"/>
<circle cx="1126.4" cy="1563" r="7.5"/>
</g>
</g>
<g class="h" font-size="23" text-anchor="middle">
<text transform="translate(186.6 86) scale(0.93 1)">#</text>
<text transform="translate(186.6 110.2) scale(0.93 1)">#</text>
<text transform="translate(186.6 134.8) scale(0.93 1)">#</text>
<text transform="translate(202.4 80.5) scale(0.93 1)">#</text>
<text transform="translate(202.4 104.8) scale(0.93 1)">#</text>
<text transform="translate(202.4 129.2) scale(0.93 1)">#</text>
<text transform="translate(218.6 158.8) scale(0.93 1)">#</text>
<text transform="translate(218.6 183.2) scale(0.93 1)">#</text>
<text transform="translate(236.6 178.8) scale(0.93 1)">#</text>
<text transform="translate(236.6 203.8) scale(0.93 1)">#</text>
<text transform="translate(306.4 197.8) scale(0.93 1)">#</text>
<text transform="translate(306.4 221.8) scale(0.93 1)">#</text>
<text transform="translate(593.4 116.8) scale(0.93 1)">#</text>
<text transform="translate(593.4 141.8) scale(0.93 1)">#</text>
<text transform="translate(593.4 165.8) scale(0.93 1)">#</text>
<text transform="translate(611.4 133.8) scale(0.93 1)">#</text>
<text transform="translate(611.4 158.8) scale(0.93 1)">#</text>
<text transform="translate(611.4 182.8) scale(0.93 1)">#</text>
<text transform="translate(630 243.3) scale(0.93 1)">#</text>
<text transform="translate(662.4 216.8) scale(0.93 1)">#</text>
<text transform="translate(662.4 240.8) scale(0.93 1)">#</text>
<text transform="translate(1002 156.8) scale(0.93 1)">#</text>
<text transform="translate(1002 181.8) scale(0.93 1)">#</text>
<text transform="translate(1002 205.8) scale(0.93 1)">#</text>
<text transform="translate(1018 178.8) scale(0.93 1)">#</text>
<text transform="translate(1018 203.8) scale(0.93 1)">#</text>
<text transform="translate(1018 227.8) scale(0.93 1)">#</text>
<text transform="translate(1035 208.8) scale(0.93 1)">#</text>
<text transform="translate(1035 233.3) scale(0.93 1)">#</text>
<text transform="translate(1035 257.8) scale(0.93 1)">#</text>
<text transform="translate(1054.4 256.8) scale(0.93 1)">#</text>
<text transform="translate(1054.4 281.8) scale(0.93 1)">#</text>
<text transform="translate(1086.6 238.3) scale(0.93 1)">#</text>
<text transform="translate(1086.6 262.8) scale(0.93 1)">#</text>
<text transform="translate(1208.6 231.8) scale(0.93 1)">#</text>
<text transform="translate(1208.6 255.8) scale(0.93 1)">#</text>
<text transform="translate(1408 169.6) scale(0.93 1)">#</text>
<text transform="translate(1408 193.6) scale(0.93 1)">#</text>
<text transform="translate(1408 217.6) scale(0.93 1)">#</text>
<text transform="translate(1442.4 262.1) scale(0.93 1)">#</text>
<text transform="translate(1442.4 286.6) scale(0.93 1)">#</text>
<text transform="translate(300 540.5) scale(0.93 1)">#</text>
<text transform="translate(300 565.5) scale(0.93 1)">#</text>
<text transform="translate(300 590.1) scale(0.93 1)">#</text>
<text transform="translate(369.4 617.4) scale(0.93 1)">#</text>
<text transform="translate(369.4 643) scale(0.93 1)">#</text>
<text transform="translate(437.6 650) scale(0.93 1)">#</text>
<text transform="translate(437.6 675) scale(0.93 1)">#</text>
<text transform="translate(817.6 556.8) scale(0.93 1)">#</text>
<text transform="translate(902 648.8) scale(0.93 1)">#</text>
<text transform="translate(186 954.8) scale(0.93 1)">#</text>
<text transform="translate(186 979.1) scale(0.93 1)">#</text>
<text transform="translate(186 1003.8) scale(0.93 1)">#</text>
<text transform="translate(220.4 1008.8) scale(0.93 1)">#</text>
<text transform="translate(220.4 1033.2) scale(0.93 1)">#</text>
<text transform="translate(220.4 1057.8) scale(0.93 1)">#</text>
<text transform="translate(238 1095.8) scale(0.93 1)">#</text>
<text transform="translate(376 1095.8) scale(0.93 1)">#</text>
<text transform="translate(593.4 1002.8) scale(0.93 1)">#</text>
<text transform="translate(593.4 1027.8) scale(0.93 1)">#</text>
<text transform="translate(593.4 1051.8) scale(0.93 1)">#</text>
<text transform="translate(612.4 1110.8) scale(0.93 1)">#</text>
<text transform="translate(612.4 1135.3) scale(0.93 1)">#</text>
<text transform="translate(644.6 1080.3) scale(0.93 1)">#</text>
<text transform="translate(644.6 1104.3) scale(0.93 1)">#</text>
<text transform="translate(764 1100.2) scale(0.93 1)">#</text>
<text transform="translate(999.6 1108.8) scale(0.93 1)">#</text>
<text transform="translate(1020 1139.3) scale(0.93 1)">#</text>
<text transform="translate(1037.6 1132.8) scale(0.93 1)">#</text>
<text transform="translate(1089 1141.8) scale(0.93 1)">#</text>
<text transform="translate(1122 1141.8) scale(0.93 1)">#</text>
<text transform="translate(1405.6 1111.8) scale(0.93 1)">#</text>
<text transform="translate(1441 1140.2) scale(0.93 1)">#</text>
<text transform="translate(1459 1132.3) scale(0.93 1)">#</text>
<text transform="translate(1477 1126.8) scale(0.93 1)">#</text>
<text transform="translate(1717 1119.8) scale(0.93 1)">#</text>
<text transform="translate(302.2 1462.8) scale(0.93 1)">#</text>
<text transform="translate(370.4 1467) scale(0.93 1)">#</text>
<text transform="translate(370.4 1492) scale(0.93 1)">#</text>
<text transform="translate(438.6 1511.2) scale(0.93 1)">#</text>
<text transform="translate(507.4 1507) scale(0.93 1)">#</text>
<text transform="translate(800 1426.8) scale(0.93 1)">#</text>
<text transform="translate(834.6 1456.8) scale(0.93 1)">#</text>
<text transform="translate(834.6 1480.8) scale(0.93 1)">#</text>
</g>
</svg></body></html>
